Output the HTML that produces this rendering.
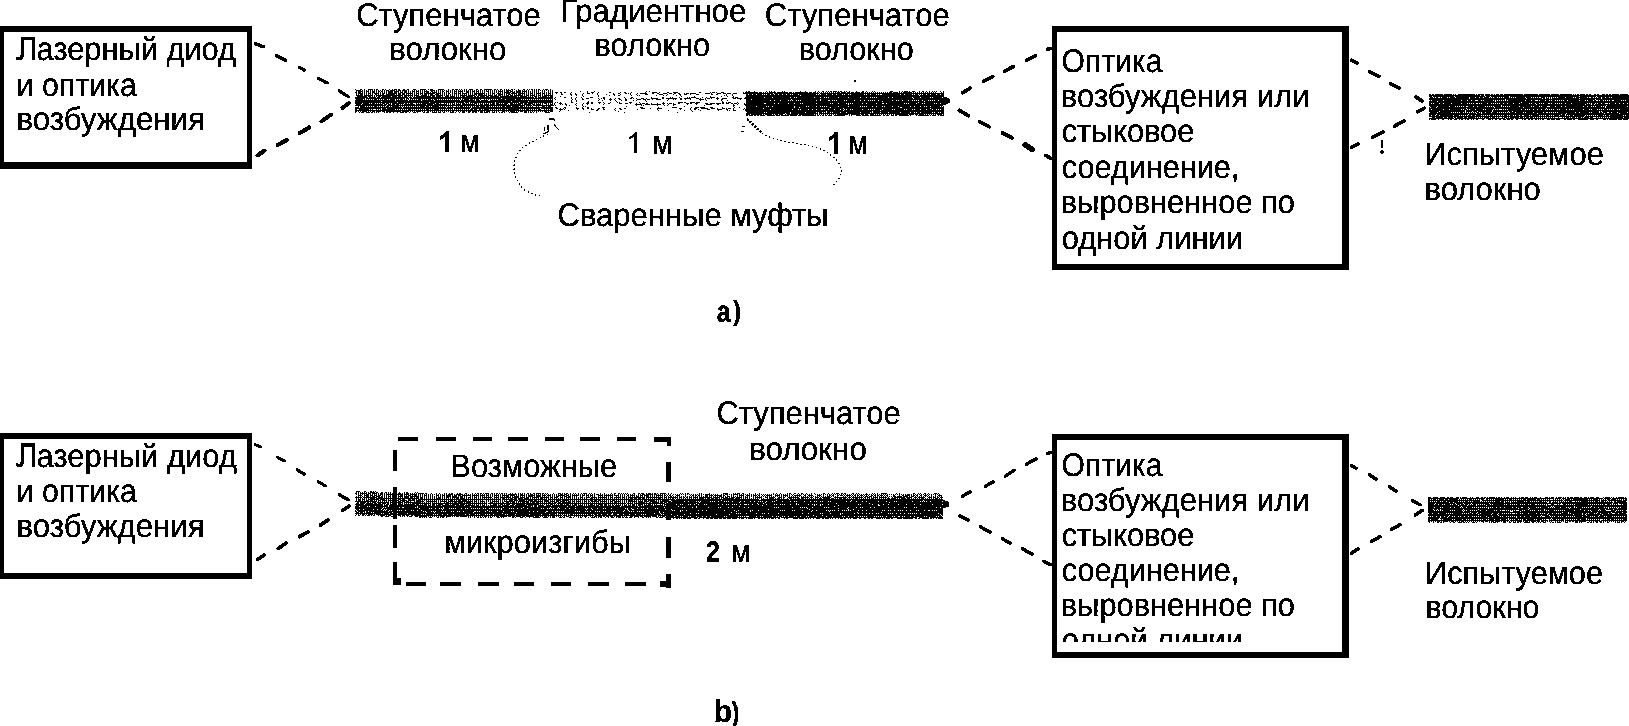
<!DOCTYPE html>
<html><head><meta charset="utf-8"><title>diagram</title>
<style>
html,body{margin:0;padding:0;background:#fff;}
body{width:1629px;height:726px;overflow:hidden;}
svg{display:block;font-family:"Liberation Sans",sans-serif;}
</style></head><body>
<svg width="1629" height="726" viewBox="0 0 1629 726">
<defs><filter id="thr" filterUnits="userSpaceOnUse" x="0" y="0" width="1629" height="726" color-interpolation-filters="sRGB"><feComponentTransfer><feFuncA type="discrete" tableValues="0 0 1 1"/></feComponentTransfer></filter><clipPath id="clipb"><rect x="1057" y="440" width="285" height="202"/></clipPath></defs>
<rect width="1629" height="726" fill="#fff"/>
<g fill="#000" shape-rendering="crispEdges">
<path fill-rule="evenodd" d="M0 26H252V169H0Z M4 32H247V162H4Z"/>
<path fill-rule="evenodd" d="M1052 26H1349V270H1052Z M1057 32H1342V264H1057Z"/>
<path fill-rule="evenodd" d="M0 433H252V579H0Z M3.5 439H247V573H3.5Z"/>
<path fill-rule="evenodd" d="M1052 434H1349V658H1052Z M1057 440H1342V651.5H1057Z"/>
<rect x="398.3" y="437" width="19.5" height="4"/>
<rect x="436.2" y="437" width="19.5" height="4"/>
<rect x="472.7" y="437" width="19.5" height="4"/>
<rect x="508.1" y="437" width="19.5" height="4"/>
<rect x="544.6" y="437" width="19.5" height="4"/>
<rect x="580" y="437" width="19.5" height="4"/>
<rect x="616.5" y="437" width="19.5" height="4"/>
<rect x="653.7" y="437" width="17.5" height="4.5"/><rect x="667" y="437" width="4" height="9"/>
<rect x="405.7" y="581.5" width="20.5" height="4.5"/>
<rect x="440.4" y="581.5" width="20.5" height="4.5"/>
<rect x="478.4" y="581.5" width="20.5" height="4.5"/>
<rect x="513.6" y="581.5" width="20.5" height="4.5"/>
<rect x="550.8" y="581.5" width="20.5" height="4.5"/>
<rect x="588" y="581.5" width="20.5" height="4.5"/>
<rect x="625.1" y="581.5" width="20.5" height="4.5"/>
<rect x="660" y="581" width="11" height="6"/>
<rect x="393" y="450.2" width="4" height="20.6"/>
<rect x="393" y="487" width="4" height="32.0"/>
<rect x="393" y="525.4" width="4" height="22.3"/>
<rect x="393" y="561.8" width="4" height="20.7"/>
<rect x="393" y="578" width="8" height="7"/>
<rect x="665.5" y="462.2" width="5.5" height="19.8"/>
<rect x="665.5" y="503" width="5.5" height="17.0"/>
<rect x="665.5" y="536.5" width="5.5" height="21.1"/>
<rect x="665.5" y="573.7" width="5.5" height="14.3"/>
</g>
<g fill="none" stroke="#000" stroke-width="1" shape-rendering="crispEdges">
<path d="M355 89.5h1M360 89.5h2M364 89.5h1M368 89.5h5M374 89.5h1M376 89.5h2M382 89.5h2M385 89.5h1M389 89.5h1M392 89.5h1M394 89.5h3M398 89.5h2M403 89.5h2M407 89.5h2M413 89.5h3M420 89.5h6M428 89.5h1M430 89.5h3M438 89.5h6M448 89.5h1M452 89.5h2M455 89.5h3M459 89.5h1M461 89.5h1M464 89.5h1M466 89.5h1M469 89.5h4M476 89.5h2M480 89.5h2M484 89.5h8M494 89.5h2M497 89.5h1M500 89.5h2M504 89.5h1M506 89.5h1M508 89.5h1M511 89.5h2M514 89.5h1M518 89.5h1M523 89.5h2M527 89.5h1M529 89.5h1M531 89.5h2M534 89.5h1M536 89.5h1M538 89.5h2M543 89.5h1M545 89.5h3M550 89.5h1M356 90.5h5M362 90.5h1M364 90.5h1M366 90.5h1M368 90.5h1M370 90.5h1M372 90.5h1M374 90.5h1M376 90.5h1M378 90.5h1M380 90.5h1M382 90.5h1M384 90.5h1M386 90.5h3M390 90.5h5M396 90.5h1M398 90.5h3M402 90.5h5M408 90.5h1M412 90.5h1M414 90.5h1M416 90.5h1M418 90.5h1M420 90.5h1M422 90.5h1M424 90.5h1M426 90.5h1M430 90.5h5M436 90.5h1M438 90.5h1M440 90.5h1M442 90.5h1M444 90.5h1M446 90.5h1M448 90.5h1M450 90.5h1M452 90.5h1M454 90.5h1M456 90.5h1M458 90.5h1M460 90.5h1M462 90.5h1M464 90.5h1M466 90.5h1M468 90.5h1M470 90.5h1M472 90.5h1M474 90.5h1M476 90.5h1M478 90.5h1M480 90.5h1M482 90.5h1M484 90.5h1M486 90.5h1M488 90.5h1M490 90.5h1M492 90.5h1M494 90.5h1M496 90.5h1M498 90.5h1M500 90.5h1M502 90.5h1M504 90.5h1M506 90.5h5M512 90.5h1M516 90.5h1M518 90.5h3M522 90.5h1M524 90.5h1M526 90.5h1M528 90.5h1M532 90.5h1M534 90.5h1M536 90.5h1M538 90.5h1M540 90.5h1M542 90.5h1M544 90.5h1M546 90.5h1M548 90.5h1M550 90.5h1M552 90.5h1M356 91.5h1M358 91.5h5M364 91.5h1M366 91.5h3M370 91.5h1M372 91.5h3M376 91.5h1M378 91.5h2M381 91.5h2M384 91.5h1M386 91.5h1M388 91.5h5M394 91.5h5M400 91.5h1M402 91.5h1M404 91.5h3M408 91.5h1M410 91.5h1M412 91.5h3M416 91.5h3M420 91.5h1M422 91.5h1M424 91.5h5M431 91.5h2M434 91.5h1M436 91.5h1M438 91.5h1M440 91.5h1M442 91.5h2M446 91.5h3M450 91.5h1M452 91.5h1M454 91.5h3M458 91.5h5M464 91.5h1M466 91.5h3M470 91.5h1M472 91.5h3M476 91.5h3M480 91.5h1M482 91.5h1M484 91.5h1M486 91.5h3M490 91.5h1M492 91.5h1M494 91.5h1M496 91.5h1M498 91.5h5M504 91.5h1M506 91.5h3M510 91.5h3M514 91.5h1M516 91.5h5M522 91.5h5M528 91.5h1M530 91.5h1M532 91.5h1M534 91.5h1M536 91.5h1M538 91.5h1M542 91.5h1M544 91.5h1M548 91.5h1M550 91.5h1M552 91.5h1M355 92.5h2M358 92.5h3M362 92.5h1M364 92.5h1M366 92.5h1M368 92.5h1M370 92.5h1M372 92.5h3M376 92.5h1M378 92.5h1M380 92.5h1M382 92.5h1M384 92.5h1M386 92.5h1M388 92.5h5M394 92.5h3M398 92.5h1M400 92.5h3M404 92.5h3M408 92.5h1M410 92.5h1M412 92.5h1M414 92.5h1M416 92.5h1M418 92.5h1M420 92.5h1M422 92.5h1M424 92.5h1M426 92.5h3M430 92.5h1M432 92.5h5M438 92.5h1M440 92.5h1M442 92.5h1M444 92.5h1M446 92.5h1M448 92.5h1M450 92.5h1M452 92.5h1M454 92.5h1M456 92.5h1M458 92.5h1M460 92.5h1M462 92.5h1M466 92.5h3M470 92.5h1M472 92.5h1M474 92.5h1M476 92.5h1M478 92.5h1M480 92.5h1M482 92.5h1M484 92.5h1M488 92.5h1M490 92.5h1M492 92.5h1M494 92.5h1M496 92.5h1M498 92.5h1M500 92.5h1M502 92.5h1M504 92.5h7M512 92.5h3M516 92.5h5M522 92.5h1M524 92.5h1M526 92.5h1M528 92.5h1M530 92.5h1M532 92.5h1M534 92.5h1M536 92.5h1M538 92.5h1M540 92.5h1M542 92.5h1M544 92.5h1M546 92.5h1M548 92.5h1M550 92.5h1M552 92.5h1M356 93.5h1M358 93.5h5M364 93.5h1M366 93.5h1M368 93.5h3M372 93.5h1M374 93.5h5M380 93.5h1M382 93.5h3M386 93.5h1M388 93.5h9M398 93.5h3M402 93.5h3M406 93.5h7M414 93.5h1M416 93.5h3M420 93.5h3M424 93.5h11M436 93.5h5M442 93.5h1M444 93.5h1M446 93.5h1M448 93.5h2M452 93.5h1M454 93.5h3M458 93.5h3M462 93.5h5M468 93.5h1M470 93.5h1M472 93.5h1M474 93.5h11M486 93.5h1M488 93.5h1M490 93.5h1M492 93.5h3M497 93.5h4M502 93.5h1M504 93.5h1M506 93.5h4M511 93.5h6M518 93.5h7M526 93.5h1M528 93.5h1M530 93.5h3M534 93.5h1M536 93.5h5M542 93.5h3M546 93.5h1M548 93.5h3M552 93.5h1M356 94.5h1M358 94.5h1M360 94.5h3M364 94.5h1M366 94.5h1M368 94.5h1M370 94.5h1M372 94.5h1M375 94.5h2M378 94.5h1M380 94.5h1M382 94.5h2M386 94.5h9M396 94.5h1M398 94.5h3M402 94.5h3M406 94.5h1M408 94.5h1M410 94.5h1M412 94.5h1M414 94.5h1M416 94.5h1M418 94.5h1M420 94.5h1M422 94.5h1M424 94.5h3M428 94.5h1M430 94.5h3M435 94.5h4M440 94.5h1M442 94.5h1M444 94.5h1M446 94.5h1M448 94.5h1M450 94.5h1M452 94.5h1M454 94.5h1M456 94.5h1M458 94.5h1M460 94.5h1M462 94.5h1M464 94.5h1M466 94.5h1M468 94.5h1M470 94.5h1M472 94.5h1M474 94.5h3M478 94.5h5M484 94.5h1M486 94.5h1M488 94.5h1M490 94.5h1M492 94.5h1M494 94.5h1M496 94.5h1M498 94.5h5M504 94.5h1M506 94.5h1M508 94.5h3M512 94.5h1M514 94.5h1M516 94.5h1M518 94.5h3M522 94.5h1M524 94.5h1M526 94.5h1M528 94.5h1M530 94.5h1M532 94.5h1M534 94.5h1M536 94.5h1M538 94.5h1M540 94.5h1M542 94.5h1M544 94.5h1M546 94.5h1M548 94.5h1M550 94.5h1M552 94.5h1M356 95.5h7M364 95.5h9M374 95.5h1M376 95.5h27M404 95.5h9M414 95.5h5M421 95.5h6M428 95.5h1M430 95.5h5M436 95.5h7M444 95.5h1M446 95.5h3M450 95.5h1M452 95.5h1M454 95.5h1M456 95.5h1M458 95.5h1M460 95.5h7M468 95.5h7M476 95.5h1M478 95.5h9M488 95.5h5M494 95.5h3M498 95.5h3M502 95.5h1M504 95.5h1M506 95.5h3M510 95.5h3M514 95.5h9M524 95.5h1M526 95.5h3M530 95.5h5M536 95.5h1M538 95.5h3M542 95.5h1M544 95.5h9M357 96.5h10M368 96.5h3M372 96.5h1M374 96.5h1M376 96.5h1M378 96.5h3M382 96.5h9M392 96.5h5M398 96.5h3M402 96.5h1M404 96.5h3M408 96.5h1M410 96.5h1M412 96.5h1M414 96.5h1M416 96.5h15M432 96.5h3M436 96.5h5M442 96.5h1M445 96.5h4M450 96.5h5M456 96.5h1M458 96.5h1M460 96.5h1M462 96.5h3M466 96.5h7M474 96.5h2M477 96.5h2M480 96.5h5M486 96.5h3M490 96.5h9M500 96.5h17M518 96.5h1M520 96.5h7M528 96.5h1M530 96.5h1M532 96.5h1M534 96.5h3M538 96.5h1M540 96.5h1M542 96.5h5M548 96.5h1M550 96.5h3M355 97.5h13M369 97.5h7M377 97.5h3M381 97.5h27M409 97.5h3M413 97.5h121M535 97.5h2M538 97.5h15M355 98.5h10M366 98.5h39M406 98.5h3M410 98.5h51M462 98.5h39M502 98.5h51M356 99.5h7M364 99.5h1M366 99.5h1M368 99.5h1M370 99.5h1M372 99.5h1M374 99.5h3M378 99.5h1M380 99.5h1M382 99.5h1M384 99.5h3M388 99.5h1M390 99.5h5M396 99.5h1M398 99.5h1M400 99.5h3M404 99.5h1M406 99.5h1M408 99.5h1M410 99.5h1M412 99.5h1M414 99.5h1M416 99.5h1M418 99.5h3M422 99.5h1M424 99.5h1M426 99.5h1M428 99.5h3M432 99.5h1M434 99.5h3M438 99.5h1M440 99.5h1M442 99.5h1M444 99.5h1M446 99.5h1M448 99.5h1M450 99.5h1M452 99.5h1M454 99.5h1M456 99.5h1M458 99.5h1M460 99.5h1M462 99.5h1M464 99.5h5M470 99.5h3M474 99.5h1M476 99.5h3M480 99.5h1M484 99.5h1M486 99.5h1M488 99.5h1M490 99.5h1M492 99.5h1M494 99.5h1M496 99.5h1M498 99.5h7M506 99.5h9M516 99.5h5M522 99.5h1M524 99.5h1M526 99.5h1M528 99.5h1M530 99.5h1M532 99.5h1M534 99.5h1M536 99.5h1M538 99.5h1M540 99.5h1M542 99.5h1M544 99.5h1M546 99.5h1M548 99.5h1M550 99.5h1M552 99.5h1M355 100.5h40M396 100.5h12M409 100.5h12M422 100.5h12M435 100.5h25M461 100.5h14M476 100.5h4M481 100.5h7M490 100.5h63M355 101.5h26M382 101.5h129M512 101.5h16M529 101.5h24M355 102.5h42M398 102.5h31M430 102.5h25M456 102.5h8M465 102.5h4M470 102.5h25M496 102.5h23M520 102.5h33M355 103.5h7M363 103.5h6M370 103.5h1M372 103.5h3M376 103.5h1M378 103.5h1M380 103.5h1M382 103.5h3M386 103.5h3M390 103.5h1M392 103.5h12M405 103.5h2M408 103.5h1M410 103.5h3M416 103.5h1M418 103.5h1M420 103.5h1M422 103.5h13M436 103.5h3M440 103.5h1M444 103.5h1M446 103.5h1M448 103.5h1M450 103.5h1M452 103.5h1M454 103.5h1M456 103.5h1M458 103.5h1M460 103.5h1M462 103.5h3M466 103.5h1M468 103.5h1M470 103.5h1M472 103.5h1M474 103.5h3M478 103.5h1M480 103.5h1M482 103.5h1M484 103.5h1M486 103.5h1M488 103.5h1M490 103.5h1M492 103.5h3M496 103.5h3M500 103.5h1M502 103.5h1M504 103.5h4M510 103.5h3M514 103.5h1M516 103.5h1M518 103.5h5M524 103.5h3M528 103.5h5M534 103.5h1M536 103.5h1M538 103.5h1M540 103.5h1M542 103.5h1M544 103.5h3M548 103.5h1M550 103.5h1M552 103.5h1M356 104.5h5M362 104.5h21M384 104.5h3M388 104.5h3M392 104.5h3M396 104.5h3M400 104.5h1M402 104.5h1M404 104.5h11M416 104.5h10M427 104.5h6M434 104.5h13M448 104.5h1M450 104.5h1M452 104.5h3M456 104.5h5M462 104.5h13M476 104.5h1M478 104.5h1M480 104.5h3M484 104.5h5M490 104.5h5M496 104.5h11M508 104.5h1M510 104.5h11M522 104.5h1M524 104.5h7M532 104.5h3M536 104.5h5M542 104.5h1M546 104.5h1M548 104.5h1M550 104.5h3M355 105.5h31M387 105.5h138M526 105.5h6M533 105.5h20M358 106.5h1M360 106.5h5M366 106.5h1M368 106.5h1M370 106.5h1M372 106.5h1M374 106.5h3M378 106.5h1M380 106.5h1M382 106.5h1M384 106.5h1M386 106.5h3M390 106.5h1M392 106.5h7M400 106.5h1M402 106.5h1M404 106.5h1M406 106.5h1M408 106.5h1M410 106.5h1M412 106.5h1M414 106.5h1M416 106.5h1M418 106.5h1M420 106.5h5M426 106.5h3M430 106.5h1M432 106.5h7M440 106.5h1M442 106.5h1M444 106.5h1M446 106.5h1M448 106.5h1M450 106.5h1M452 106.5h1M456 106.5h1M458 106.5h1M460 106.5h3M464 106.5h1M466 106.5h1M468 106.5h1M470 106.5h1M472 106.5h1M474 106.5h1M476 106.5h3M480 106.5h5M486 106.5h3M490 106.5h1M492 106.5h1M494 106.5h1M496 106.5h1M498 106.5h1M500 106.5h1M502 106.5h3M506 106.5h5M512 106.5h7M520 106.5h3M524 106.5h1M526 106.5h1M528 106.5h1M530 106.5h1M532 106.5h1M536 106.5h1M538 106.5h1M542 106.5h3M546 106.5h1M548 106.5h3M355 107.5h4M360 107.5h42M403 107.5h43M447 107.5h24M472 107.5h81M355 108.5h26M382 108.5h4M387 108.5h66M454 108.5h16M471 108.5h69M541 108.5h12M355 109.5h2M359 109.5h10M370 109.5h1M372 109.5h1M376 109.5h1M378 109.5h1M380 109.5h1M382 109.5h13M396 109.5h1M398 109.5h1M400 109.5h1M402 109.5h1M404 109.5h1M406 109.5h1M408 109.5h3M412 109.5h1M414 109.5h1M416 109.5h1M418 109.5h1M420 109.5h1M422 109.5h1M424 109.5h1M426 109.5h3M430 109.5h1M432 109.5h1M434 109.5h5M440 109.5h1M442 109.5h1M444 109.5h1M446 109.5h1M448 109.5h1M450 109.5h1M452 109.5h1M454 109.5h1M456 109.5h1M458 109.5h1M460 109.5h1M462 109.5h1M464 109.5h1M466 109.5h1M468 109.5h1M470 109.5h3M474 109.5h3M479 109.5h2M482 109.5h1M484 109.5h5M490 109.5h1M492 109.5h1M494 109.5h1M496 109.5h1M498 109.5h1M500 109.5h1M502 109.5h3M506 109.5h1M508 109.5h11M520 109.5h1M522 109.5h1M524 109.5h1M526 109.5h3M530 109.5h1M532 109.5h1M534 109.5h1M536 109.5h1M538 109.5h3M544 109.5h1M546 109.5h1M548 109.5h1M550 109.5h3M355 110.5h198M355 111.5h2M358 111.5h1M360 111.5h1M362 111.5h5M368 111.5h1M370 111.5h1M372 111.5h3M376 111.5h5M382 111.5h3M386 111.5h15M402 111.5h7M410 111.5h1M412 111.5h1M414 111.5h1M416 111.5h5M422 111.5h1M424 111.5h1M427 111.5h2M430 111.5h1M432 111.5h1M434 111.5h1M436 111.5h1M438 111.5h1M440 111.5h1M442 111.5h1M444 111.5h1M446 111.5h1M448 111.5h1M450 111.5h1M452 111.5h2M456 111.5h1M458 111.5h1M460 111.5h1M462 111.5h3M466 111.5h1M468 111.5h3M472 111.5h5M478 111.5h1M480 111.5h3M484 111.5h1M486 111.5h4M492 111.5h1M494 111.5h1M496 111.5h1M498 111.5h1M502 111.5h3M506 111.5h1M508 111.5h1M510 111.5h5M516 111.5h1M518 111.5h1M520 111.5h3M524 111.5h3M528 111.5h1M530 111.5h1M532 111.5h1M534 111.5h1M536 111.5h1M538 111.5h1M540 111.5h1M542 111.5h1M544 111.5h3M548 111.5h1M550 111.5h3M355 112.5h1M359 112.5h1M361 112.5h3M366 112.5h4M371 112.5h2M374 112.5h1M376 112.5h1M378 112.5h1M384 112.5h1M386 112.5h2M389 112.5h2M393 112.5h1M397 112.5h1M400 112.5h4M405 112.5h2M409 112.5h1M413 112.5h3M417 112.5h1M423 112.5h2M426 112.5h3M432 112.5h5M438 112.5h3M443 112.5h2M450 112.5h4M455 112.5h1M459 112.5h1M462 112.5h3M468 112.5h2M472 112.5h2M475 112.5h2M480 112.5h3M484 112.5h4M489 112.5h1M492 112.5h3M496 112.5h1M499 112.5h1M501 112.5h2M504 112.5h1M509 112.5h1M511 112.5h7M524 112.5h3M528 112.5h1M530 112.5h2M533 112.5h1M536 112.5h1M545 112.5h5"/>
<path d="M580 91.5h1M587 91.5h1M594 91.5h1M646 91.5h1M649 91.5h1M555 92.5h3M560 92.5h2M564 92.5h2M571 92.5h1M587 92.5h1M591 92.5h3M598 92.5h1M609 92.5h2M620 92.5h1M624 92.5h2M631 92.5h1M645 92.5h1M652 92.5h5M659 92.5h1M667 92.5h2M673 92.5h5M699 92.5h2M710 92.5h1M712 92.5h3M716 92.5h1M721 92.5h3M743 92.5h1M745 92.5h2M556 93.5h1M561 93.5h1M570 93.5h1M575 93.5h1M583 93.5h1M587 93.5h3M592 93.5h1M597 93.5h1M613 93.5h1M618 93.5h2M625 93.5h2M628 93.5h1M630 93.5h1M637 93.5h1M640 93.5h7M652 93.5h2M657 93.5h2M663 93.5h4M669 93.5h3M674 93.5h2M678 93.5h2M684 93.5h1M686 93.5h3M690 93.5h6M705 93.5h5M711 93.5h1M717 93.5h4M723 93.5h3M727 93.5h4M733 93.5h4M743 93.5h3M561 94.5h2M570 94.5h2M575 94.5h2M582 94.5h1M597 94.5h1M606 94.5h1M613 94.5h2M620 94.5h1M630 94.5h1M636 94.5h1M645 94.5h3M659 94.5h4M667 94.5h1M673 94.5h1M679 94.5h2M684 94.5h3M690 94.5h1M696 94.5h3M711 94.5h2M716 94.5h2M726 94.5h1M732 94.5h1M571 95.5h1M576 95.5h1M582 95.5h1M598 95.5h1M609 95.5h1M614 95.5h1M618 95.5h2M631 95.5h1M637 95.5h1M639 95.5h1M656 95.5h1M663 95.5h1M666 95.5h1M676 95.5h1M680 95.5h1M724 95.5h1M726 95.5h1M732 95.5h1M560 96.5h1M583 96.5h1M598 96.5h1M681 96.5h1M694 96.5h1M710 96.5h1M721 96.5h1M727 96.5h1M733 96.5h1M555 97.5h1M564 97.5h2M571 97.5h1M576 97.5h1M581 97.5h1M590 97.5h3M603 97.5h2M624 97.5h1M631 97.5h2M651 97.5h1M662 97.5h2M670 97.5h1M672 97.5h1M679 97.5h1M687 97.5h1M689 97.5h1M691 97.5h5M702 97.5h1M706 97.5h1M710 97.5h5M717 97.5h1M732 97.5h2M735 97.5h3M745 97.5h2M554 98.5h1M571 98.5h1M575 98.5h1M582 98.5h1M586 98.5h3M598 98.5h1M601 98.5h1M603 98.5h2M610 98.5h1M615 98.5h1M618 98.5h2M625 98.5h1M630 98.5h2M633 98.5h1M636 98.5h1M641 98.5h3M646 98.5h1M651 98.5h7M662 98.5h2M666 98.5h11M680 98.5h2M684 98.5h7M696 98.5h3M700 98.5h1M705 98.5h1M707 98.5h3M711 98.5h1M716 98.5h3M722 98.5h5M733 98.5h3M737 98.5h5M744 98.5h2M555 99.5h1M572 99.5h1M575 99.5h1M582 99.5h2M599 99.5h1M604 99.5h1M609 99.5h3M614 99.5h1M619 99.5h2M625 99.5h2M637 99.5h4M643 99.5h3M647 99.5h3M652 99.5h1M656 99.5h5M668 99.5h1M673 99.5h1M675 99.5h1M680 99.5h2M685 99.5h1M690 99.5h1M699 99.5h5M705 99.5h1M717 99.5h1M721 99.5h2M740 99.5h1M571 100.5h1M576 100.5h1M598 100.5h1M602 100.5h1M610 100.5h1M615 100.5h1M621 100.5h1M625 100.5h2M633 100.5h1M636 100.5h1M645 100.5h1M667 100.5h1M700 100.5h1M706 100.5h1M721 100.5h1M727 100.5h1M571 101.5h1M576 101.5h1M588 101.5h1M616 101.5h1M646 101.5h1M722 101.5h1M555 102.5h1M557 102.5h1M560 102.5h1M571 102.5h2M587 102.5h2M591 102.5h2M598 102.5h3M603 102.5h1M610 102.5h1M617 102.5h1M619 102.5h1M629 102.5h3M639 102.5h1M663 102.5h1M678 102.5h5M684 102.5h2M690 102.5h5M696 102.5h4M722 102.5h2M726 102.5h1M728 102.5h3M737 102.5h1M554 103.5h1M559 103.5h3M565 103.5h1M576 103.5h1M583 103.5h1M586 103.5h3M591 103.5h2M599 103.5h1M604 103.5h1M608 103.5h2M619 103.5h3M625 103.5h3M630 103.5h1M636 103.5h1M640 103.5h1M642 103.5h3M646 103.5h2M651 103.5h1M657 103.5h1M662 103.5h3M667 103.5h1M669 103.5h3M673 103.5h1M678 103.5h2M686 103.5h3M690 103.5h2M695 103.5h3M705 103.5h3M710 103.5h5M716 103.5h5M722 103.5h2M726 103.5h3M731 103.5h2M734 103.5h3M738 103.5h1M744 103.5h1M554 104.5h1M560 104.5h1M562 104.5h1M565 104.5h2M575 104.5h1M582 104.5h1M587 104.5h1M603 104.5h1M635 104.5h7M645 104.5h5M651 104.5h10M663 104.5h1M668 104.5h1M673 104.5h3M687 104.5h1M696 104.5h1M706 104.5h6M717 104.5h2M733 104.5h1M737 104.5h1M744 104.5h3M553 105.5h1M555 105.5h1M566 105.5h1M569 105.5h1M576 105.5h1M582 105.5h1M636 105.5h1M641 105.5h1M643 105.5h1M657 105.5h1M664 105.5h1M667 105.5h1M673 105.5h1M704 105.5h1M733 105.5h2M745 105.5h1M583 106.5h1M585 106.5h1M626 106.5h1M684 106.5h1M733 106.5h1M555 107.5h2M564 107.5h2M576 107.5h1M582 107.5h1M587 107.5h2M602 107.5h3M640 107.5h3M658 107.5h1M672 107.5h5M691 107.5h1M695 107.5h4M700 107.5h5M710 107.5h3M722 107.5h1M734 107.5h1M739 107.5h1M556 108.5h2M560 108.5h1M563 108.5h1M565 108.5h1M576 108.5h3M582 108.5h2M587 108.5h2M591 108.5h1M598 108.5h2M603 108.5h1M615 108.5h1M619 108.5h2M624 108.5h2M641 108.5h4M650 108.5h1M657 108.5h5M679 108.5h3M690 108.5h1M694 108.5h3M701 108.5h7M711 108.5h4M717 108.5h1M722 108.5h3M726 108.5h1M728 108.5h3M733 108.5h1M744 108.5h1M746 108.5h1M559 109.5h4M564 109.5h1M577 109.5h1M583 109.5h1M591 109.5h3M597 109.5h2M603 109.5h2M614 109.5h1M620 109.5h2M637 109.5h1M657 109.5h1M680 109.5h1M690 109.5h1M694 109.5h2M698 109.5h1M707 109.5h3M717 109.5h5M726 109.5h2M733 109.5h1M743 109.5h1M745 109.5h1M560 110.5h1M568 110.5h1M596 110.5h2M615 110.5h1M658 110.5h1M668 110.5h1M684 110.5h1M691 110.5h1M700 110.5h1M718 110.5h1M727 110.5h1M729 110.5h1M733 110.5h3M745 110.5h2M559 111.5h1M618 111.5h1M692 111.5h1M589 112.5h1M624 112.5h1M677 112.5h1"/>
<path d="M746 91.5h1M748 91.5h2M754 91.5h1M766 91.5h1M769 91.5h1M771 91.5h1M774 91.5h1M782 91.5h1M784 91.5h1M800 91.5h1M805 91.5h1M815 91.5h1M818 91.5h1M822 91.5h2M826 91.5h1M828 91.5h1M830 91.5h2M833 91.5h4M838 91.5h1M840 91.5h2M844 91.5h1M846 91.5h1M849 91.5h1M856 91.5h1M862 91.5h2M866 91.5h1M872 91.5h1M874 91.5h1M890 91.5h3M899 91.5h1M902 91.5h1M904 91.5h4M909 91.5h1M912 91.5h3M919 91.5h1M922 91.5h2M926 91.5h1M929 91.5h1M932 91.5h1M934 91.5h1M936 91.5h1M940 91.5h1M943 91.5h1M746 92.5h12M759 92.5h3M763 92.5h1M765 92.5h1M767 92.5h1M769 92.5h7M777 92.5h11M789 92.5h3M793 92.5h1M795 92.5h13M809 92.5h3M813 92.5h3M817 92.5h1M819 92.5h1M821 92.5h1M823 92.5h1M825 92.5h1M827 92.5h1M829 92.5h1M831 92.5h1M833 92.5h1M835 92.5h1M837 92.5h3M841 92.5h5M847 92.5h3M851 92.5h3M855 92.5h5M861 92.5h3M865 92.5h1M867 92.5h1M869 92.5h1M871 92.5h1M873 92.5h1M875 92.5h1M877 92.5h1M879 92.5h1M881 92.5h1M883 92.5h1M885 92.5h1M887 92.5h1M889 92.5h3M893 92.5h5M899 92.5h1M901 92.5h1M903 92.5h9M913 92.5h1M915 92.5h1M917 92.5h1M919 92.5h1M921 92.5h1M923 92.5h1M925 92.5h1M927 92.5h1M929 92.5h1M931 92.5h1M933 92.5h1M935 92.5h1M941 92.5h1M943 92.5h1M746 93.5h27M774 93.5h45M820 93.5h124M746 94.5h2M749 94.5h3M753 94.5h3M757 94.5h5M763 94.5h1M765 94.5h1M767 94.5h3M771 94.5h3M775 94.5h3M779 94.5h3M783 94.5h3M787 94.5h3M791 94.5h1M793 94.5h5M799 94.5h17M817 94.5h1M819 94.5h1M821 94.5h5M827 94.5h5M833 94.5h3M837 94.5h5M843 94.5h1M845 94.5h3M849 94.5h1M851 94.5h13M865 94.5h1M867 94.5h3M871 94.5h5M877 94.5h1M879 94.5h1M882 94.5h18M901 94.5h3M905 94.5h7M913 94.5h1M915 94.5h3M919 94.5h1M921 94.5h1M923 94.5h3M927 94.5h3M931 94.5h5M937 94.5h3M941 94.5h3M746 95.5h54M801 95.5h118M920 95.5h24M746 96.5h198M746 97.5h18M765 97.5h7M773 97.5h17M791 97.5h3M795 97.5h1M797 97.5h17M815 97.5h5M821 97.5h3M825 97.5h1M827 97.5h1M829 97.5h9M839 97.5h9M849 97.5h11M861 97.5h5M867 97.5h3M871 97.5h1M873 97.5h1M875 97.5h1M877 97.5h11M889 97.5h3M893 97.5h19M913 97.5h7M921 97.5h9M931 97.5h1M933 97.5h9M943 97.5h1M746 98.5h167M914 98.5h30M746 99.5h5M752 99.5h39M792 99.5h28M821 99.5h123M746 100.5h24M771 100.5h3M775 100.5h5M781 100.5h7M789 100.5h1M791 100.5h1M793 100.5h3M797 100.5h1M799 100.5h1M801 100.5h15M817 100.5h3M821 100.5h7M830 100.5h2M833 100.5h1M835 100.5h1M837 100.5h7M845 100.5h1M847 100.5h7M855 100.5h5M861 100.5h3M865 100.5h3M869 100.5h1M871 100.5h1M873 100.5h1M875 100.5h3M879 100.5h13M893 100.5h3M897 100.5h1M899 100.5h3M903 100.5h5M909 100.5h3M913 100.5h1M915 100.5h1M917 100.5h1M919 100.5h3M923 100.5h5M929 100.5h1M931 100.5h1M933 100.5h1M935 100.5h3M939 100.5h5M746 101.5h136M883 101.5h41M925 101.5h19M746 102.5h172M919 102.5h25M746 103.5h18M766 103.5h8M775 103.5h3M779 103.5h9M789 103.5h5M795 103.5h5M801 103.5h1M803 103.5h13M817 103.5h13M831 103.5h1M833 103.5h5M839 103.5h7M847 103.5h1M849 103.5h1M851 103.5h1M853 103.5h9M863 103.5h3M867 103.5h9M877 103.5h5M884 103.5h2M887 103.5h17M905 103.5h1M907 103.5h1M909 103.5h7M917 103.5h5M923 103.5h1M925 103.5h9M935 103.5h1M937 103.5h3M941 103.5h3M746 104.5h102M849 104.5h95M746 105.5h197M746 106.5h10M757 106.5h9M767 106.5h1M769 106.5h3M773 106.5h21M795 106.5h11M807 106.5h1M809 106.5h7M817 106.5h3M821 106.5h1M823 106.5h1M825 106.5h1M827 106.5h11M839 106.5h9M849 106.5h11M861 106.5h1M863 106.5h1M865 106.5h1M867 106.5h5M873 106.5h3M877 106.5h5M883 106.5h1M885 106.5h7M893 106.5h5M899 106.5h11M911 106.5h3M915 106.5h5M921 106.5h3M925 106.5h1M927 106.5h3M931 106.5h9M941 106.5h1M943 106.5h1M746 107.5h48M795 107.5h4M800 107.5h30M831 107.5h69M902 107.5h42M746 108.5h17M764 108.5h79M844 108.5h86M931 108.5h13M746 109.5h24M771 109.5h21M793 109.5h5M799 109.5h1M801 109.5h7M809 109.5h3M813 109.5h3M817 109.5h4M823 109.5h1M825 109.5h3M829 109.5h5M835 109.5h5M841 109.5h3M845 109.5h1M847 109.5h3M851 109.5h1M853 109.5h9M863 109.5h5M869 109.5h1M871 109.5h1M873 109.5h1M875 109.5h7M883 109.5h9M893 109.5h1M895 109.5h9M905 109.5h1M907 109.5h5M913 109.5h1M915 109.5h5M921 109.5h5M927 109.5h5M933 109.5h3M937 109.5h1M939 109.5h1M941 109.5h3M746 110.5h97M844 110.5h36M881 110.5h63M746 111.5h80M827 111.5h45M873 111.5h71M747 112.5h17M765 112.5h1M767 112.5h23M791 112.5h14M806 112.5h10M817 112.5h1M819 112.5h3M823 112.5h1M825 112.5h1M827 112.5h3M831 112.5h1M833 112.5h7M841 112.5h5M847 112.5h13M861 112.5h9M871 112.5h1M873 112.5h7M881 112.5h7M889 112.5h11M901 112.5h9M911 112.5h3M915 112.5h1M917 112.5h3M921 112.5h11M933 112.5h1M935 112.5h3M939 112.5h1M941 112.5h3M746 113.5h39M786 113.5h4M791 113.5h27M819 113.5h125M746 114.5h4M751 114.5h11M763 114.5h1M765 114.5h7M773 114.5h1M775 114.5h3M779 114.5h4M785 114.5h1M787 114.5h11M799 114.5h15M815 114.5h1M817 114.5h1M819 114.5h1M821 114.5h1M823 114.5h1M825 114.5h1M827 114.5h1M829 114.5h1M831 114.5h1M833 114.5h1M835 114.5h1M837 114.5h11M849 114.5h1M851 114.5h9M861 114.5h3M865 114.5h3M870 114.5h4M875 114.5h1M877 114.5h1M879 114.5h1M881 114.5h1M883 114.5h1M885 114.5h1M887 114.5h1M889 114.5h1M891 114.5h1M893 114.5h1M895 114.5h13M909 114.5h5M915 114.5h3M919 114.5h5M925 114.5h1M927 114.5h1M929 114.5h1M931 114.5h1M933 114.5h1M935 114.5h1M937 114.5h5M943 114.5h1M746 115.5h2M749 115.5h4M754 115.5h2M757 115.5h2M760 115.5h5M767 115.5h8M776 115.5h4M781 115.5h8M790 115.5h7M798 115.5h3M802 115.5h14M817 115.5h2M820 115.5h1M822 115.5h2M825 115.5h2M828 115.5h4M834 115.5h11M849 115.5h1M851 115.5h1M856 115.5h5M862 115.5h7M870 115.5h11M883 115.5h2M886 115.5h3M891 115.5h3M895 115.5h2M899 115.5h10M910 115.5h1M916 115.5h1M918 115.5h11M930 115.5h1M932 115.5h4M938 115.5h1M940 115.5h4"/>
<path d="M944 97.5h3M944 98.5h5M944 99.5h6M944 100.5h6M944 101.5h6M944 102.5h6M944 103.5h4M944 104.5h2"/>
<path d="M1429 94.5h2M1432 94.5h2M1435 94.5h8M1444 94.5h8M1453 94.5h1M1455 94.5h1M1458 94.5h17M1476 94.5h1M1478 94.5h6M1485 94.5h5M1491 94.5h2M1494 94.5h1M1496 94.5h3M1500 94.5h3M1504 94.5h19M1524 94.5h14M1539 94.5h11M1551 94.5h8M1560 94.5h12M1573 94.5h1M1575 94.5h1M1577 94.5h2M1580 94.5h5M1586 94.5h2M1589 94.5h2M1594 94.5h2M1597 94.5h2M1602 94.5h3M1606 94.5h2M1609 94.5h2M1612 94.5h7M1620 94.5h8M1429 95.5h51M1481 95.5h3M1485 95.5h144M1429 96.5h3M1433 96.5h21M1455 96.5h30M1486 96.5h4M1491 96.5h18M1510 96.5h69M1580 96.5h16M1597 96.5h32M1430 97.5h3M1434 97.5h1M1436 97.5h2M1440 97.5h1M1442 97.5h5M1448 97.5h1M1450 97.5h5M1456 97.5h13M1470 97.5h5M1476 97.5h3M1480 97.5h3M1484 97.5h5M1490 97.5h1M1492 97.5h1M1494 97.5h3M1498 97.5h1M1500 97.5h1M1502 97.5h1M1504 97.5h5M1510 97.5h1M1512 97.5h1M1514 97.5h1M1516 97.5h9M1526 97.5h5M1532 97.5h1M1534 97.5h1M1536 97.5h1M1538 97.5h1M1541 97.5h4M1546 97.5h1M1548 97.5h1M1550 97.5h1M1552 97.5h1M1554 97.5h1M1556 97.5h1M1558 97.5h7M1566 97.5h7M1574 97.5h1M1576 97.5h11M1588 97.5h1M1591 97.5h2M1594 97.5h1M1596 97.5h1M1598 97.5h3M1602 97.5h3M1606 97.5h3M1610 97.5h1M1612 97.5h17M1429 98.5h40M1470 98.5h56M1527 98.5h15M1543 98.5h2M1546 98.5h3M1550 98.5h1M1552 98.5h27M1580 98.5h21M1602 98.5h27M1429 99.5h76M1506 99.5h89M1596 99.5h33M1430 100.5h1M1432 100.5h11M1444 100.5h17M1462 100.5h5M1468 100.5h3M1472 100.5h3M1478 100.5h3M1482 100.5h1M1484 100.5h9M1494 100.5h1M1496 100.5h1M1498 100.5h1M1500 100.5h1M1502 100.5h1M1504 100.5h1M1506 100.5h1M1508 100.5h17M1526 100.5h5M1532 100.5h3M1538 100.5h1M1540 100.5h5M1546 100.5h3M1550 100.5h1M1552 100.5h3M1556 100.5h1M1558 100.5h1M1560 100.5h1M1562 100.5h1M1564 100.5h3M1568 100.5h11M1580 100.5h5M1586 100.5h1M1588 100.5h5M1594 100.5h2M1598 100.5h1M1600 100.5h3M1604 100.5h1M1606 100.5h1M1608 100.5h1M1610 100.5h2M1614 100.5h7M1622 100.5h1M1624 100.5h1M1626 100.5h3M1429 101.5h8M1438 101.5h57M1496 101.5h133M1429 102.5h92M1522 102.5h107M1429 103.5h2M1432 103.5h1M1434 103.5h5M1440 103.5h3M1444 103.5h7M1452 103.5h9M1462 103.5h5M1468 103.5h1M1470 103.5h1M1472 103.5h1M1474 103.5h2M1478 103.5h1M1480 103.5h1M1482 103.5h5M1488 103.5h3M1492 103.5h1M1494 103.5h1M1496 103.5h1M1498 103.5h1M1500 103.5h3M1504 103.5h3M1508 103.5h5M1514 103.5h5M1520 103.5h9M1530 103.5h1M1532 103.5h3M1536 103.5h3M1540 103.5h1M1542 103.5h1M1544 103.5h4M1550 103.5h1M1552 103.5h3M1556 103.5h1M1558 103.5h1M1560 103.5h1M1562 103.5h3M1566 103.5h5M1572 103.5h15M1588 103.5h1M1590 103.5h1M1592 103.5h3M1596 103.5h1M1598 103.5h3M1602 103.5h3M1608 103.5h1M1610 103.5h5M1616 103.5h3M1620 103.5h3M1624 103.5h3M1628 103.5h1M1429 104.5h107M1537 104.5h48M1586 104.5h5M1592 104.5h2M1595 104.5h34M1429 105.5h72M1502 105.5h104M1607 105.5h22M1430 106.5h7M1438 106.5h11M1450 106.5h5M1456 106.5h1M1458 106.5h1M1460 106.5h1M1462 106.5h1M1464 106.5h2M1468 106.5h5M1474 106.5h3M1478 106.5h7M1486 106.5h1M1488 106.5h1M1490 106.5h1M1492 106.5h1M1494 106.5h7M1502 106.5h1M1504 106.5h1M1506 106.5h1M1508 106.5h1M1510 106.5h9M1520 106.5h11M1532 106.5h1M1534 106.5h5M1540 106.5h1M1542 106.5h5M1550 106.5h5M1556 106.5h5M1562 106.5h3M1566 106.5h17M1584 106.5h3M1588 106.5h3M1592 106.5h1M1594 106.5h1M1596 106.5h5M1602 106.5h1M1604 106.5h1M1606 106.5h21M1628 106.5h1M1429 107.5h1M1431 107.5h5M1437 107.5h57M1495 107.5h28M1524 107.5h81M1606 107.5h23M1429 108.5h37M1467 108.5h79M1547 108.5h82M1429 109.5h2M1432 109.5h11M1444 109.5h5M1450 109.5h11M1462 109.5h1M1464 109.5h3M1468 109.5h1M1470 109.5h5M1476 109.5h7M1484 109.5h1M1486 109.5h7M1494 109.5h1M1496 109.5h1M1498 109.5h1M1502 109.5h1M1504 109.5h1M1506 109.5h1M1508 109.5h13M1522 109.5h3M1526 109.5h1M1528 109.5h1M1530 109.5h3M1534 109.5h3M1538 109.5h3M1542 109.5h3M1546 109.5h1M1548 109.5h1M1550 109.5h1M1552 109.5h1M1554 109.5h3M1558 109.5h1M1560 109.5h6M1567 109.5h2M1570 109.5h1M1572 109.5h1M1574 109.5h9M1584 109.5h5M1590 109.5h1M1592 109.5h5M1598 109.5h1M1600 109.5h1M1602 109.5h1M1604 109.5h3M1608 109.5h1M1610 109.5h1M1612 109.5h1M1614 109.5h3M1618 109.5h1M1620 109.5h9M1429 110.5h36M1466 110.5h26M1493 110.5h136M1429 111.5h10M1440 111.5h25M1466 111.5h6M1473 111.5h4M1478 111.5h14M1493 111.5h15M1509 111.5h3M1513 111.5h86M1600 111.5h1M1602 111.5h27M1430 112.5h7M1438 112.5h13M1452 112.5h1M1454 112.5h1M1456 112.5h1M1458 112.5h1M1460 112.5h3M1464 112.5h1M1466 112.5h1M1468 112.5h1M1470 112.5h1M1472 112.5h1M1474 112.5h1M1476 112.5h3M1480 112.5h1M1482 112.5h3M1486 112.5h5M1492 112.5h5M1498 112.5h1M1500 112.5h1M1502 112.5h1M1504 112.5h1M1506 112.5h1M1508 112.5h1M1510 112.5h5M1516 112.5h7M1524 112.5h1M1526 112.5h7M1534 112.5h9M1544 112.5h2M1548 112.5h1M1550 112.5h1M1552 112.5h1M1554 112.5h1M1556 112.5h1M1558 112.5h17M1576 112.5h3M1580 112.5h9M1590 112.5h1M1592 112.5h7M1600 112.5h2M1603 112.5h4M1609 112.5h2M1612 112.5h5M1618 112.5h9M1628 112.5h1M1429 113.5h47M1477 113.5h4M1482 113.5h55M1538 113.5h28M1567 113.5h37M1605 113.5h14M1620 113.5h9M1429 114.5h7M1437 114.5h31M1469 114.5h92M1562 114.5h3M1566 114.5h63M1429 115.5h2M1432 115.5h3M1436 115.5h3M1440 115.5h13M1454 115.5h5M1460 115.5h1M1462 115.5h1M1464 115.5h1M1466 115.5h1M1468 115.5h3M1472 115.5h3M1476 115.5h5M1482 115.5h1M1484 115.5h1M1486 115.5h1M1488 115.5h1M1490 115.5h3M1494 115.5h1M1496 115.5h1M1498 115.5h1M1500 115.5h1M1502 115.5h1M1504 115.5h3M1508 115.5h1M1510 115.5h3M1514 115.5h1M1516 115.5h3M1520 115.5h2M1524 115.5h5M1530 115.5h1M1532 115.5h7M1540 115.5h1M1542 115.5h1M1544 115.5h1M1546 115.5h3M1550 115.5h1M1552 115.5h1M1554 115.5h5M1560 115.5h5M1566 115.5h1M1568 115.5h1M1570 115.5h3M1574 115.5h11M1586 115.5h1M1588 115.5h1M1590 115.5h1M1592 115.5h1M1594 115.5h1M1596 115.5h1M1598 115.5h5M1604 115.5h1M1606 115.5h3M1610 115.5h13M1624 115.5h1M1626 115.5h3M1429 116.5h155M1585 116.5h44M1432 117.5h3M1436 117.5h7M1444 117.5h3M1448 117.5h5M1454 117.5h2M1457 117.5h6M1464 117.5h3M1468 117.5h7M1476 117.5h1M1478 117.5h1M1480 117.5h1M1482 117.5h1M1484 117.5h5M1490 117.5h1M1492 117.5h3M1496 117.5h1M1498 117.5h1M1502 117.5h1M1504 117.5h3M1508 117.5h1M1510 117.5h9M1520 117.5h3M1524 117.5h1M1526 117.5h3M1530 117.5h3M1534 117.5h1M1536 117.5h1M1538 117.5h1M1540 117.5h1M1542 117.5h1M1544 117.5h1M1546 117.5h1M1548 117.5h1M1550 117.5h1M1552 117.5h1M1554 117.5h1M1558 117.5h1M1562 117.5h1M1564 117.5h1M1566 117.5h3M1570 117.5h1M1572 117.5h3M1576 117.5h1M1578 117.5h3M1582 117.5h1M1584 117.5h5M1590 117.5h3M1596 117.5h1M1598 117.5h1M1600 117.5h1M1602 117.5h1M1604 117.5h1M1606 117.5h1M1608 117.5h1M1610 117.5h13M1624 117.5h5M1429 118.5h25M1455 118.5h30M1486 118.5h19M1506 118.5h8M1515 118.5h114M1429 119.5h1M1431 119.5h5M1438 119.5h1M1442 119.5h2M1448 119.5h1M1450 119.5h2M1454 119.5h3M1459 119.5h1M1461 119.5h2M1465 119.5h1M1467 119.5h2M1471 119.5h1M1473 119.5h1M1476 119.5h2M1482 119.5h2M1488 119.5h3M1492 119.5h1M1495 119.5h2M1499 119.5h2M1503 119.5h3M1507 119.5h3M1511 119.5h2M1516 119.5h2M1522 119.5h1M1524 119.5h2M1528 119.5h2M1531 119.5h2M1535 119.5h2M1538 119.5h1M1540 119.5h1M1542 119.5h2M1547 119.5h3M1551 119.5h4M1556 119.5h4M1564 119.5h2M1567 119.5h5M1573 119.5h2M1578 119.5h10M1590 119.5h4M1596 119.5h2M1603 119.5h3M1607 119.5h1M1609 119.5h8M1618 119.5h4M1623 119.5h5"/>
<path d="M356 491.5h4M364 491.5h2M370 491.5h2M373 491.5h1M375 491.5h1M356 492.5h1M358 492.5h1M360 492.5h1M362 492.5h1M364 492.5h1M366 492.5h1M368 492.5h1M370 492.5h5M376 492.5h2M381 492.5h2M385 492.5h2M388 492.5h1M390 492.5h1M395 492.5h1M399 492.5h1M404 492.5h1M406 492.5h2M415 492.5h1M417 492.5h1M355 493.5h2M358 493.5h1M360 493.5h7M368 493.5h3M372 493.5h5M378 493.5h1M380 493.5h3M384 493.5h1M386 493.5h1M388 493.5h1M390 493.5h1M392 493.5h1M394 493.5h1M396 493.5h1M398 493.5h3M402 493.5h1M404 493.5h1M406 493.5h3M410 493.5h1M412 493.5h1M414 493.5h1M416 493.5h1M418 493.5h6M425 493.5h2M431 493.5h1M436 493.5h1M439 493.5h1M444 493.5h1M446 493.5h1M449 493.5h1M451 493.5h2M457 493.5h1M459 493.5h2M465 493.5h2M472 493.5h1M475 493.5h1M477 493.5h2M480 493.5h2M483 493.5h1M485 493.5h4M491 493.5h2M494 493.5h1M496 493.5h2M499 493.5h1M501 493.5h2M504 493.5h1M506 493.5h1M510 493.5h1M512 493.5h1M515 493.5h1M518 493.5h1M520 493.5h1M522 493.5h1M524 493.5h1M527 493.5h2M530 493.5h1M533 493.5h2M536 493.5h5M542 493.5h2M545 493.5h1M547 493.5h1M553 493.5h1M558 493.5h3M562 493.5h1M564 493.5h1M566 493.5h2M570 493.5h1M573 493.5h1M575 493.5h1M578 493.5h1M581 493.5h1M583 493.5h4M589 493.5h1M591 493.5h1M594 493.5h1M600 493.5h1M604 493.5h1M611 493.5h1M614 493.5h2M618 493.5h2M621 493.5h1M623 493.5h1M625 493.5h1M627 493.5h1M633 493.5h2M638 493.5h2M641 493.5h3M646 493.5h1M648 493.5h3M652 493.5h1M654 493.5h2M657 493.5h1M660 493.5h6M668 493.5h1M671 493.5h1M356 494.5h1M358 494.5h1M360 494.5h1M362 494.5h1M364 494.5h1M366 494.5h3M370 494.5h1M372 494.5h1M374 494.5h1M376 494.5h1M378 494.5h1M380 494.5h3M384 494.5h1M386 494.5h17M404 494.5h5M410 494.5h7M418 494.5h1M420 494.5h1M422 494.5h1M424 494.5h1M426 494.5h1M428 494.5h1M430 494.5h1M432 494.5h1M434 494.5h1M436 494.5h1M438 494.5h1M440 494.5h1M442 494.5h1M444 494.5h1M446 494.5h1M448 494.5h5M454 494.5h1M456 494.5h7M464 494.5h1M466 494.5h1M468 494.5h1M470 494.5h1M472 494.5h1M474 494.5h1M476 494.5h1M478 494.5h1M480 494.5h1M482 494.5h1M484 494.5h1M486 494.5h1M488 494.5h1M490 494.5h1M492 494.5h1M494 494.5h1M496 494.5h1M498 494.5h1M500 494.5h1M502 494.5h1M504 494.5h1M506 494.5h1M508 494.5h9M518 494.5h1M520 494.5h3M524 494.5h1M526 494.5h1M528 494.5h1M530 494.5h3M534 494.5h1M536 494.5h1M538 494.5h1M540 494.5h1M542 494.5h1M544 494.5h1M546 494.5h1M548 494.5h1M550 494.5h1M552 494.5h1M554 494.5h1M556 494.5h1M558 494.5h1M560 494.5h3M564 494.5h3M568 494.5h1M570 494.5h1M572 494.5h1M574 494.5h1M576 494.5h1M578 494.5h1M580 494.5h1M582 494.5h1M584 494.5h1M586 494.5h1M588 494.5h1M590 494.5h1M592 494.5h1M594 494.5h1M596 494.5h3M600 494.5h1M602 494.5h1M604 494.5h1M606 494.5h1M608 494.5h1M610 494.5h1M612 494.5h1M614 494.5h1M618 494.5h1M620 494.5h1M622 494.5h1M624 494.5h1M626 494.5h1M628 494.5h1M630 494.5h1M632 494.5h1M634 494.5h1M638 494.5h1M640 494.5h1M642 494.5h3M646 494.5h7M654 494.5h3M658 494.5h1M660 494.5h1M662 494.5h1M664 494.5h1M666 494.5h1M668 494.5h1M670 494.5h1M358 495.5h4M364 495.5h5M370 495.5h3M374 495.5h3M378 495.5h3M382 495.5h1M384 495.5h1M386 495.5h1M388 495.5h1M390 495.5h1M392 495.5h1M394 495.5h1M396 495.5h1M398 495.5h1M400 495.5h3M404 495.5h1M406 495.5h1M408 495.5h3M412 495.5h1M414 495.5h3M418 495.5h1M420 495.5h1M422 495.5h1M424 495.5h3M428 495.5h1M430 495.5h1M432 495.5h1M436 495.5h3M440 495.5h1M442 495.5h3M446 495.5h5M452 495.5h1M454 495.5h3M458 495.5h3M462 495.5h9M472 495.5h7M480 495.5h5M486 495.5h3M490 495.5h1M492 495.5h1M494 495.5h5M500 495.5h1M502 495.5h7M510 495.5h5M516 495.5h1M518 495.5h1M520 495.5h5M526 495.5h1M528 495.5h7M536 495.5h5M542 495.5h4M547 495.5h4M552 495.5h1M554 495.5h1M556 495.5h1M558 495.5h7M566 495.5h3M570 495.5h1M572 495.5h7M580 495.5h1M582 495.5h3M586 495.5h3M590 495.5h3M594 495.5h1M598 495.5h5M604 495.5h9M614 495.5h5M620 495.5h1M622 495.5h1M624 495.5h1M627 495.5h2M630 495.5h5M636 495.5h1M638 495.5h1M640 495.5h3M644 495.5h5M650 495.5h1M652 495.5h1M654 495.5h1M656 495.5h7M664 495.5h2M667 495.5h1M669 495.5h2M356 496.5h1M358 496.5h1M360 496.5h1M362 496.5h1M364 496.5h1M366 496.5h3M370 496.5h1M372 496.5h3M376 496.5h4M381 496.5h2M384 496.5h1M386 496.5h1M388 496.5h3M392 496.5h5M398 496.5h5M404 496.5h5M410 496.5h9M420 496.5h1M422 496.5h1M424 496.5h1M426 496.5h1M428 496.5h1M430 496.5h1M432 496.5h1M434 496.5h1M436 496.5h1M438 496.5h1M440 496.5h1M442 496.5h1M444 496.5h1M446 496.5h5M452 496.5h5M458 496.5h1M460 496.5h3M464 496.5h1M466 496.5h1M470 496.5h1M472 496.5h1M474 496.5h1M476 496.5h1M478 496.5h1M480 496.5h1M482 496.5h1M484 496.5h1M486 496.5h1M488 496.5h1M490 496.5h1M492 496.5h1M494 496.5h1M496 496.5h1M498 496.5h1M500 496.5h1M502 496.5h1M504 496.5h1M506 496.5h3M510 496.5h1M512 496.5h1M514 496.5h5M520 496.5h1M522 496.5h1M524 496.5h1M526 496.5h1M528 496.5h5M534 496.5h1M536 496.5h5M542 496.5h1M544 496.5h1M546 496.5h1M548 496.5h1M550 496.5h1M552 496.5h1M554 496.5h1M556 496.5h3M560 496.5h1M562 496.5h1M564 496.5h3M568 496.5h3M572 496.5h1M574 496.5h1M576 496.5h1M580 496.5h1M582 496.5h1M586 496.5h1M588 496.5h1M590 496.5h1M592 496.5h1M594 496.5h1M598 496.5h1M600 496.5h1M602 496.5h1M604 496.5h1M606 496.5h1M608 496.5h1M610 496.5h1M612 496.5h1M616 496.5h1M618 496.5h1M620 496.5h1M622 496.5h1M624 496.5h1M626 496.5h1M628 496.5h1M630 496.5h1M632 496.5h1M634 496.5h1M636 496.5h3M640 496.5h1M642 496.5h1M644 496.5h1M646 496.5h3M650 496.5h1M652 496.5h1M654 496.5h1M656 496.5h1M658 496.5h1M660 496.5h1M662 496.5h1M664 496.5h1M666 496.5h1M668 496.5h1M670 496.5h2M355 497.5h7M363 497.5h14M378 497.5h5M384 497.5h1M386 497.5h1M388 497.5h1M390 497.5h1M392 497.5h1M394 497.5h1M398 497.5h1M400 497.5h1M402 497.5h1M404 497.5h5M410 497.5h3M414 497.5h1M416 497.5h3M420 497.5h3M424 497.5h1M426 497.5h1M428 497.5h1M430 497.5h1M432 497.5h1M434 497.5h1M436 497.5h1M438 497.5h3M442 497.5h1M444 497.5h1M446 497.5h3M450 497.5h1M452 497.5h7M460 497.5h3M464 497.5h1M466 497.5h1M468 497.5h3M472 497.5h1M474 497.5h3M478 497.5h1M480 497.5h1M482 497.5h10M494 497.5h5M500 497.5h11M512 497.5h7M520 497.5h5M526 497.5h3M530 497.5h1M532 497.5h7M540 497.5h9M550 497.5h3M554 497.5h4M560 497.5h3M564 497.5h1M566 497.5h5M572 497.5h1M574 497.5h1M576 497.5h1M578 497.5h1M580 497.5h3M584 497.5h1M586 497.5h4M591 497.5h6M598 497.5h9M608 497.5h1M610 497.5h3M614 497.5h7M622 497.5h3M626 497.5h1M628 497.5h17M646 497.5h17M664 497.5h3M668 497.5h4M356 498.5h1M358 498.5h1M360 498.5h1M362 498.5h1M364 498.5h1M366 498.5h1M368 498.5h1M370 498.5h5M376 498.5h43M420 498.5h3M424 498.5h1M426 498.5h1M428 498.5h1M430 498.5h1M432 498.5h1M434 498.5h1M436 498.5h5M442 498.5h1M444 498.5h1M446 498.5h1M448 498.5h1M450 498.5h1M452 498.5h1M454 498.5h1M456 498.5h3M460 498.5h5M466 498.5h1M468 498.5h1M470 498.5h1M472 498.5h1M474 498.5h1M476 498.5h1M478 498.5h1M480 498.5h1M482 498.5h1M484 498.5h1M486 498.5h1M488 498.5h1M490 498.5h1M492 498.5h1M494 498.5h1M496 498.5h1M498 498.5h1M500 498.5h1M502 498.5h3M506 498.5h1M508 498.5h1M510 498.5h3M514 498.5h3M518 498.5h5M524 498.5h5M530 498.5h1M532 498.5h1M534 498.5h1M536 498.5h1M538 498.5h1M540 498.5h3M544 498.5h1M546 498.5h1M548 498.5h1M550 498.5h1M552 498.5h1M554 498.5h1M556 498.5h1M558 498.5h1M560 498.5h1M562 498.5h1M564 498.5h1M566 498.5h1M568 498.5h1M570 498.5h1M572 498.5h1M574 498.5h1M576 498.5h1M578 498.5h1M580 498.5h1M582 498.5h1M584 498.5h1M586 498.5h1M590 498.5h3M594 498.5h1M596 498.5h1M598 498.5h1M600 498.5h1M602 498.5h1M604 498.5h1M606 498.5h1M608 498.5h1M610 498.5h1M612 498.5h1M614 498.5h1M616 498.5h1M618 498.5h1M620 498.5h1M622 498.5h1M624 498.5h1M626 498.5h1M628 498.5h1M630 498.5h3M634 498.5h3M638 498.5h3M642 498.5h3M646 498.5h1M648 498.5h1M650 498.5h1M652 498.5h1M654 498.5h1M656 498.5h1M658 498.5h3M662 498.5h1M664 498.5h1M666 498.5h1M668 498.5h1M670 498.5h1M356 499.5h1M358 499.5h3M362 499.5h3M366 499.5h1M368 499.5h11M380 499.5h5M386 499.5h1M388 499.5h1M390 499.5h1M392 499.5h1M394 499.5h1M396 499.5h1M398 499.5h3M402 499.5h3M408 499.5h3M412 499.5h3M416 499.5h1M418 499.5h83M502 499.5h15M518 499.5h29M548 499.5h124M356 500.5h1M358 500.5h3M362 500.5h1M364 500.5h1M366 500.5h3M370 500.5h3M374 500.5h1M376 500.5h1M378 500.5h3M382 500.5h5M388 500.5h5M394 500.5h1M396 500.5h3M400 500.5h7M408 500.5h7M416 500.5h5M422 500.5h1M424 500.5h1M426 500.5h1M428 500.5h1M430 500.5h1M432 500.5h1M434 500.5h1M436 500.5h1M438 500.5h1M440 500.5h1M442 500.5h1M444 500.5h1M446 500.5h1M448 500.5h1M450 500.5h3M454 500.5h1M456 500.5h1M458 500.5h3M462 500.5h5M468 500.5h1M470 500.5h1M472 500.5h1M474 500.5h1M476 500.5h1M478 500.5h1M480 500.5h1M482 500.5h1M486 500.5h1M488 500.5h1M490 500.5h1M492 500.5h1M494 500.5h1M496 500.5h1M498 500.5h1M500 500.5h1M502 500.5h1M504 500.5h1M506 500.5h1M509 500.5h4M514 500.5h4M519 500.5h6M526 500.5h1M528 500.5h5M534 500.5h3M538 500.5h1M540 500.5h1M542 500.5h1M544 500.5h5M550 500.5h1M552 500.5h1M554 500.5h1M556 500.5h5M562 500.5h7M570 500.5h1M572 500.5h1M574 500.5h1M576 500.5h1M578 500.5h1M580 500.5h1M582 500.5h1M584 500.5h1M586 500.5h1M588 500.5h1M590 500.5h3M594 500.5h3M598 500.5h3M602 500.5h1M604 500.5h1M606 500.5h1M608 500.5h1M610 500.5h1M612 500.5h3M616 500.5h1M618 500.5h1M620 500.5h1M622 500.5h1M624 500.5h1M626 500.5h1M628 500.5h5M634 500.5h1M636 500.5h1M638 500.5h1M640 500.5h1M642 500.5h1M644 500.5h3M648 500.5h7M656 500.5h1M658 500.5h1M660 500.5h1M662 500.5h7M671 500.5h1M355 501.5h22M378 501.5h1M380 501.5h1M382 501.5h1M384 501.5h1M386 501.5h1M388 501.5h1M390 501.5h1M392 501.5h1M394 501.5h1M396 501.5h1M398 501.5h3M402 501.5h3M406 501.5h3M410 501.5h1M414 501.5h1M416 501.5h8M426 501.5h11M438 501.5h1M440 501.5h7M448 501.5h25M474 501.5h3M478 501.5h1M480 501.5h5M486 501.5h1M488 501.5h1M490 501.5h1M492 501.5h7M500 501.5h1M502 501.5h1M504 501.5h11M516 501.5h1M518 501.5h11M530 501.5h13M544 501.5h5M550 501.5h5M556 501.5h3M560 501.5h5M566 501.5h1M568 501.5h3M572 501.5h3M576 501.5h5M582 501.5h1M584 501.5h3M588 501.5h2M591 501.5h8M600 501.5h7M608 501.5h1M610 501.5h3M614 501.5h7M622 501.5h1M624 501.5h1M626 501.5h1M628 501.5h9M638 501.5h5M644 501.5h5M650 501.5h7M658 501.5h1M660 501.5h11M357 502.5h2M360 502.5h6M367 502.5h2M370 502.5h1M372 502.5h4M377 502.5h12M390 502.5h3M394 502.5h9M404 502.5h17M422 502.5h1M424 502.5h1M426 502.5h1M428 502.5h1M430 502.5h1M432 502.5h1M434 502.5h1M436 502.5h1M438 502.5h1M440 502.5h1M444 502.5h1M446 502.5h3M450 502.5h1M452 502.5h1M454 502.5h3M458 502.5h5M464 502.5h1M466 502.5h5M472 502.5h1M474 502.5h1M476 502.5h1M478 502.5h1M480 502.5h1M482 502.5h1M484 502.5h1M486 502.5h1M490 502.5h3M494 502.5h1M496 502.5h1M498 502.5h1M500 502.5h1M502 502.5h2M506 502.5h3M510 502.5h1M512 502.5h3M516 502.5h1M518 502.5h1M520 502.5h1M522 502.5h3M526 502.5h3M530 502.5h1M532 502.5h3M536 502.5h3M540 502.5h1M542 502.5h1M544 502.5h1M546 502.5h1M548 502.5h3M552 502.5h1M554 502.5h3M558 502.5h3M562 502.5h9M572 502.5h1M574 502.5h1M576 502.5h1M578 502.5h1M580 502.5h1M582 502.5h1M584 502.5h1M586 502.5h1M588 502.5h1M590 502.5h1M592 502.5h1M594 502.5h1M596 502.5h1M598 502.5h1M600 502.5h1M602 502.5h1M604 502.5h1M606 502.5h1M608 502.5h1M610 502.5h1M612 502.5h1M614 502.5h3M618 502.5h1M620 502.5h1M622 502.5h1M624 502.5h1M626 502.5h1M628 502.5h1M630 502.5h1M632 502.5h1M634 502.5h1M636 502.5h1M638 502.5h7M646 502.5h1M649 502.5h2M652 502.5h7M660 502.5h3M664 502.5h3M668 502.5h4M356 503.5h3M360 503.5h5M366 503.5h7M374 503.5h3M378 503.5h3M382 503.5h4M387 503.5h2M390 503.5h1M392 503.5h1M395 503.5h2M398 503.5h3M402 503.5h1M404 503.5h1M406 503.5h1M408 503.5h1M410 503.5h1M412 503.5h19M432 503.5h55M488 503.5h68M557 503.5h69M627 503.5h6M634 503.5h31M666 503.5h6M355 504.5h9M365 504.5h18M384 504.5h1M386 504.5h3M390 504.5h7M398 504.5h5M404 504.5h11M416 504.5h3M420 504.5h1M422 504.5h1M424 504.5h3M428 504.5h1M430 504.5h1M432 504.5h3M436 504.5h1M438 504.5h5M445 504.5h4M450 504.5h1M452 504.5h7M460 504.5h5M466 504.5h1M468 504.5h3M472 504.5h1M474 504.5h1M476 504.5h1M478 504.5h1M480 504.5h1M482 504.5h1M484 504.5h1M486 504.5h1M490 504.5h1M493 504.5h4M498 504.5h1M500 504.5h3M504 504.5h1M506 504.5h4M512 504.5h3M516 504.5h9M526 504.5h13M540 504.5h1M542 504.5h1M544 504.5h1M546 504.5h1M548 504.5h1M550 504.5h3M554 504.5h1M556 504.5h1M558 504.5h1M560 504.5h3M564 504.5h1M566 504.5h3M570 504.5h1M572 504.5h1M574 504.5h3M578 504.5h1M580 504.5h1M582 504.5h1M584 504.5h1M586 504.5h1M588 504.5h1M590 504.5h3M594 504.5h1M596 504.5h1M598 504.5h5M604 504.5h3M608 504.5h1M610 504.5h1M612 504.5h1M614 504.5h1M616 504.5h1M618 504.5h1M620 504.5h1M622 504.5h1M624 504.5h1M626 504.5h1M628 504.5h1M630 504.5h1M632 504.5h3M636 504.5h1M638 504.5h5M644 504.5h1M646 504.5h1M648 504.5h3M652 504.5h1M654 504.5h1M656 504.5h1M660 504.5h1M662 504.5h1M664 504.5h8M356 505.5h27M384 505.5h4M389 505.5h38M428 505.5h3M432 505.5h3M436 505.5h5M442 505.5h13M456 505.5h8M465 505.5h10M476 505.5h3M480 505.5h1M482 505.5h3M486 505.5h1M488 505.5h1M490 505.5h7M498 505.5h3M502 505.5h7M510 505.5h4M515 505.5h12M528 505.5h5M534 505.5h3M538 505.5h6M546 505.5h5M552 505.5h19M572 505.5h5M578 505.5h5M584 505.5h1M586 505.5h1M588 505.5h7M596 505.5h3M600 505.5h3M604 505.5h3M608 505.5h3M612 505.5h2M615 505.5h6M622 505.5h1M624 505.5h3M628 505.5h3M632 505.5h3M636 505.5h1M638 505.5h3M642 505.5h1M644 505.5h9M654 505.5h9M664 505.5h1M666 505.5h1M668 505.5h1M670 505.5h2M355 506.5h4M360 506.5h7M368 506.5h1M370 506.5h5M376 506.5h12M389 506.5h28M418 506.5h52M471 506.5h60M532 506.5h1M534 506.5h3M538 506.5h29M568 506.5h7M576 506.5h44M621 506.5h17M639 506.5h33M355 507.5h28M384 507.5h1M386 507.5h9M396 507.5h3M400 507.5h2M404 507.5h11M416 507.5h1M418 507.5h25M444 507.5h59M504 507.5h19M524 507.5h26M551 507.5h7M559 507.5h105M665 507.5h7M355 508.5h27M383 508.5h36M420 508.5h9M430 508.5h1M432 508.5h3M436 508.5h3M440 508.5h1M442 508.5h1M444 508.5h5M450 508.5h1M452 508.5h1M454 508.5h1M456 508.5h5M462 508.5h3M466 508.5h1M468 508.5h3M472 508.5h1M474 508.5h1M476 508.5h1M478 508.5h1M480 508.5h3M484 508.5h1M486 508.5h3M490 508.5h1M492 508.5h1M494 508.5h1M496 508.5h1M498 508.5h1M500 508.5h1M502 508.5h7M510 508.5h1M512 508.5h1M514 508.5h3M518 508.5h3M522 508.5h5M528 508.5h13M542 508.5h1M544 508.5h3M548 508.5h1M550 508.5h1M552 508.5h1M554 508.5h3M558 508.5h1M560 508.5h5M566 508.5h3M570 508.5h5M576 508.5h9M586 508.5h1M588 508.5h3M592 508.5h5M598 508.5h5M604 508.5h1M606 508.5h5M612 508.5h13M626 508.5h1M628 508.5h3M632 508.5h5M638 508.5h3M642 508.5h1M644 508.5h3M648 508.5h7M656 508.5h1M658 508.5h14M356 509.5h3M360 509.5h3M364 509.5h9M374 509.5h3M378 509.5h3M382 509.5h2M385 509.5h1M387 509.5h55M443 509.5h58M502 509.5h84M587 509.5h5M593 509.5h34M628 509.5h4M634 509.5h31M666 509.5h5M355 510.5h1M357 510.5h26M384 510.5h1M386 510.5h3M390 510.5h1M392 510.5h1M394 510.5h3M398 510.5h1M400 510.5h1M402 510.5h3M406 510.5h5M412 510.5h1M414 510.5h3M418 510.5h3M422 510.5h65M488 510.5h136M625 510.5h3M629 510.5h43M355 511.5h2M358 511.5h7M366 511.5h2M369 511.5h19M389 511.5h34M424 511.5h1M426 511.5h5M432 511.5h1M434 511.5h1M436 511.5h5M442 511.5h1M444 511.5h1M446 511.5h5M452 511.5h1M454 511.5h3M458 511.5h1M460 511.5h3M464 511.5h10M476 511.5h1M478 511.5h1M480 511.5h5M486 511.5h3M490 511.5h1M492 511.5h5M498 511.5h5M504 511.5h7M512 511.5h1M514 511.5h15M530 511.5h3M534 511.5h3M538 511.5h8M548 511.5h4M553 511.5h2M556 511.5h1M558 511.5h1M560 511.5h1M562 511.5h1M564 511.5h11M576 511.5h1M578 511.5h1M580 511.5h5M586 511.5h1M588 511.5h2M591 511.5h4M596 511.5h1M598 511.5h1M600 511.5h3M604 511.5h1M606 511.5h5M612 511.5h1M614 511.5h1M616 511.5h7M624 511.5h5M630 511.5h1M632 511.5h1M634 511.5h3M638 511.5h1M640 511.5h1M642 511.5h1M644 511.5h15M660 511.5h7M668 511.5h4M356 512.5h3M360 512.5h3M364 512.5h1M366 512.5h5M372 512.5h1M374 512.5h18M393 512.5h33M427 512.5h7M435 512.5h38M474 512.5h42M517 512.5h28M546 512.5h113M660 512.5h3M664 512.5h8M355 513.5h26M382 513.5h1M384 513.5h5M390 513.5h5M396 513.5h1M398 513.5h9M408 513.5h94M503 513.5h54M558 513.5h54M613 513.5h41M655 513.5h5M661 513.5h11M356 514.5h1M358 514.5h1M360 514.5h1M362 514.5h3M366 514.5h1M368 514.5h5M374 514.5h1M376 514.5h45M422 514.5h1M424 514.5h1M426 514.5h7M434 514.5h1M436 514.5h1M438 514.5h4M443 514.5h4M448 514.5h5M454 514.5h11M466 514.5h3M470 514.5h5M476 514.5h1M478 514.5h1M480 514.5h5M486 514.5h1M488 514.5h1M490 514.5h3M494 514.5h11M506 514.5h1M508 514.5h7M516 514.5h13M530 514.5h11M542 514.5h7M550 514.5h5M556 514.5h1M558 514.5h1M560 514.5h1M562 514.5h1M564 514.5h1M566 514.5h1M568 514.5h1M570 514.5h3M574 514.5h1M576 514.5h1M578 514.5h1M580 514.5h1M582 514.5h1M584 514.5h1M586 514.5h1M588 514.5h3M592 514.5h1M594 514.5h3M598 514.5h3M602 514.5h5M608 514.5h3M613 514.5h4M619 514.5h4M624 514.5h5M630 514.5h5M636 514.5h5M642 514.5h1M644 514.5h1M646 514.5h15M662 514.5h1M664 514.5h7M355 515.5h1M358 515.5h2M362 515.5h2M365 515.5h1M367 515.5h3M371 515.5h1M373 515.5h2M378 515.5h1M380 515.5h5M386 515.5h1M388 515.5h3M393 515.5h2M396 515.5h1M398 515.5h3M402 515.5h3M406 515.5h3M411 515.5h2M414 515.5h148M563 515.5h4M568 515.5h26M595 515.5h62M658 515.5h14M381 516.5h2M385 516.5h4M391 516.5h4M400 516.5h1M402 516.5h1M404 516.5h1M407 516.5h1M409 516.5h3M415 516.5h3M419 516.5h8M428 516.5h1M430 516.5h1M432 516.5h1M434 516.5h1M436 516.5h1M438 516.5h1M440 516.5h5M446 516.5h5M452 516.5h1M454 516.5h1M456 516.5h3M460 516.5h7M468 516.5h1M470 516.5h1M472 516.5h1M474 516.5h1M476 516.5h1M478 516.5h1M480 516.5h1M482 516.5h1M484 516.5h3M488 516.5h1M490 516.5h1M492 516.5h1M494 516.5h1M496 516.5h3M500 516.5h7M508 516.5h3M512 516.5h3M516 516.5h5M522 516.5h3M526 516.5h8M535 516.5h4M540 516.5h1M542 516.5h1M544 516.5h3M548 516.5h1M550 516.5h1M552 516.5h3M556 516.5h1M558 516.5h1M560 516.5h1M562 516.5h1M564 516.5h1M566 516.5h3M570 516.5h1M574 516.5h1M576 516.5h1M578 516.5h1M580 516.5h1M582 516.5h1M584 516.5h3M590 516.5h1M592 516.5h1M594 516.5h3M598 516.5h4M603 516.5h2M606 516.5h3M610 516.5h3M614 516.5h1M616 516.5h5M622 516.5h1M624 516.5h1M626 516.5h1M630 516.5h3M634 516.5h5M640 516.5h3M644 516.5h7M652 516.5h5M658 516.5h1M660 516.5h1M662 516.5h3M666 516.5h1M668 516.5h1M670 516.5h2M419 517.5h2M422 517.5h1M424 517.5h1M426 517.5h1M429 517.5h3M437 517.5h2M440 517.5h1M442 517.5h2M446 517.5h1M468 517.5h1M470 517.5h1M474 517.5h1M477 517.5h2M480 517.5h2M483 517.5h1M485 517.5h1M488 517.5h1M490 517.5h2M497 517.5h3M501 517.5h1M503 517.5h1M512 517.5h2M515 517.5h1M520 517.5h3M525 517.5h1M529 517.5h1M533 517.5h7M543 517.5h5M550 517.5h1M552 517.5h3M559 517.5h3M563 517.5h2M569 517.5h3M573 517.5h1M578 517.5h1M580 517.5h2M585 517.5h1M588 517.5h1M591 517.5h4M596 517.5h1M598 517.5h1M600 517.5h2M605 517.5h1M608 517.5h1M611 517.5h3M616 517.5h1M618 517.5h3M622 517.5h2M625 517.5h3M629 517.5h3M634 517.5h1M638 517.5h1M642 517.5h2M646 517.5h1M648 517.5h1M650 517.5h1M656 517.5h2M659 517.5h4M665 517.5h2M668 517.5h1M670 517.5h2"/>
<path d="M680 493.5h1M682 493.5h1M685 493.5h1M687 493.5h2M699 493.5h1M701 493.5h1M709 493.5h1M723 493.5h5M733 493.5h1M735 493.5h1M737 493.5h3M742 493.5h2M749 493.5h1M755 493.5h1M759 493.5h1M773 493.5h1M776 493.5h1M780 493.5h1M787 493.5h1M789 493.5h2M794 493.5h2M798 493.5h1M801 493.5h2M806 493.5h1M811 493.5h1M814 493.5h1M823 493.5h2M828 493.5h1M832 493.5h1M834 493.5h1M836 493.5h3M841 493.5h2M844 493.5h2M852 493.5h2M856 493.5h1M858 493.5h1M866 493.5h1M872 493.5h1M874 493.5h1M877 493.5h1M881 493.5h6M896 493.5h1M899 493.5h1M913 493.5h2M918 493.5h1M920 493.5h1M924 493.5h2M928 493.5h1M934 493.5h3M938 493.5h1M673 494.5h1M675 494.5h1M677 494.5h1M679 494.5h1M681 494.5h1M683 494.5h1M685 494.5h1M687 494.5h1M689 494.5h1M691 494.5h1M693 494.5h1M695 494.5h1M697 494.5h1M699 494.5h1M701 494.5h1M703 494.5h1M705 494.5h5M711 494.5h1M713 494.5h1M715 494.5h1M717 494.5h1M721 494.5h1M723 494.5h1M725 494.5h3M729 494.5h1M731 494.5h1M733 494.5h5M739 494.5h1M741 494.5h1M743 494.5h1M745 494.5h1M747 494.5h1M749 494.5h1M751 494.5h1M753 494.5h1M755 494.5h1M757 494.5h1M759 494.5h1M761 494.5h1M763 494.5h1M765 494.5h1M767 494.5h1M769 494.5h1M771 494.5h1M773 494.5h1M775 494.5h1M777 494.5h1M779 494.5h1M781 494.5h1M783 494.5h1M785 494.5h1M787 494.5h1M789 494.5h1M791 494.5h1M793 494.5h1M797 494.5h1M799 494.5h1M801 494.5h1M803 494.5h1M805 494.5h1M807 494.5h1M809 494.5h1M811 494.5h1M815 494.5h1M817 494.5h1M819 494.5h1M821 494.5h1M823 494.5h1M825 494.5h1M827 494.5h1M829 494.5h1M831 494.5h1M833 494.5h1M835 494.5h1M837 494.5h1M839 494.5h1M841 494.5h1M843 494.5h1M845 494.5h1M847 494.5h1M849 494.5h1M851 494.5h1M853 494.5h1M855 494.5h1M857 494.5h1M859 494.5h1M861 494.5h1M863 494.5h1M865 494.5h3M869 494.5h1M871 494.5h1M873 494.5h1M875 494.5h1M877 494.5h1M879 494.5h1M881 494.5h1M883 494.5h1M885 494.5h1M887 494.5h1M889 494.5h1M891 494.5h1M893 494.5h1M895 494.5h1M897 494.5h1M899 494.5h1M901 494.5h1M903 494.5h1M905 494.5h1M907 494.5h3M911 494.5h1M913 494.5h1M915 494.5h1M917 494.5h1M919 494.5h1M921 494.5h1M923 494.5h1M925 494.5h1M927 494.5h1M929 494.5h1M931 494.5h1M933 494.5h1M935 494.5h1M937 494.5h1M939 494.5h1M672 495.5h1M676 495.5h4M685 495.5h1M690 495.5h1M692 495.5h2M695 495.5h2M698 495.5h2M701 495.5h1M705 495.5h3M709 495.5h4M714 495.5h8M723 495.5h2M727 495.5h1M731 495.5h1M733 495.5h1M737 495.5h1M739 495.5h5M746 495.5h4M751 495.5h1M753 495.5h4M758 495.5h2M762 495.5h1M764 495.5h1M766 495.5h6M775 495.5h5M781 495.5h1M783 495.5h5M789 495.5h1M792 495.5h1M794 495.5h7M804 495.5h2M808 495.5h5M817 495.5h4M823 495.5h1M827 495.5h1M829 495.5h2M832 495.5h2M837 495.5h2M840 495.5h3M844 495.5h1M846 495.5h5M852 495.5h1M854 495.5h2M857 495.5h2M860 495.5h3M864 495.5h1M866 495.5h1M868 495.5h1M871 495.5h2M874 495.5h2M877 495.5h2M880 495.5h3M884 495.5h1M886 495.5h2M893 495.5h2M899 495.5h1M902 495.5h2M905 495.5h5M911 495.5h1M913 495.5h2M916 495.5h2M920 495.5h2M924 495.5h3M928 495.5h1M931 495.5h1M935 495.5h1M938 495.5h4M673 496.5h1M675 496.5h1M677 496.5h1M679 496.5h1M681 496.5h1M683 496.5h1M685 496.5h1M687 496.5h1M689 496.5h1M691 496.5h1M693 496.5h1M695 496.5h1M697 496.5h1M699 496.5h1M701 496.5h1M703 496.5h1M705 496.5h3M709 496.5h1M711 496.5h1M713 496.5h1M715 496.5h1M717 496.5h1M719 496.5h3M723 496.5h1M725 496.5h1M727 496.5h3M731 496.5h1M733 496.5h1M735 496.5h1M737 496.5h1M739 496.5h1M741 496.5h1M743 496.5h1M745 496.5h1M747 496.5h1M749 496.5h1M751 496.5h1M753 496.5h1M755 496.5h1M757 496.5h1M759 496.5h1M761 496.5h1M763 496.5h1M765 496.5h1M767 496.5h1M769 496.5h1M771 496.5h1M773 496.5h1M775 496.5h1M777 496.5h1M779 496.5h1M781 496.5h1M783 496.5h1M785 496.5h1M787 496.5h1M789 496.5h1M791 496.5h1M793 496.5h1M795 496.5h1M797 496.5h1M799 496.5h1M801 496.5h1M803 496.5h1M805 496.5h1M807 496.5h1M809 496.5h1M811 496.5h1M813 496.5h1M815 496.5h1M817 496.5h1M819 496.5h1M821 496.5h1M823 496.5h1M825 496.5h1M827 496.5h3M831 496.5h1M833 496.5h1M835 496.5h1M837 496.5h1M843 496.5h1M845 496.5h1M847 496.5h1M849 496.5h1M851 496.5h1M853 496.5h1M855 496.5h1M857 496.5h1M859 496.5h1M861 496.5h1M863 496.5h1M865 496.5h3M869 496.5h3M873 496.5h1M875 496.5h1M877 496.5h1M879 496.5h1M881 496.5h1M883 496.5h1M885 496.5h1M887 496.5h1M889 496.5h1M891 496.5h1M893 496.5h3M897 496.5h5M903 496.5h5M909 496.5h1M911 496.5h3M915 496.5h1M917 496.5h1M919 496.5h1M921 496.5h1M923 496.5h1M925 496.5h1M927 496.5h1M929 496.5h1M931 496.5h1M933 496.5h1M935 496.5h1M937 496.5h1M939 496.5h1M941 496.5h1M672 497.5h6M679 497.5h3M683 497.5h2M686 497.5h2M689 497.5h3M693 497.5h5M699 497.5h13M713 497.5h7M721 497.5h3M725 497.5h3M729 497.5h1M731 497.5h4M736 497.5h6M743 497.5h1M745 497.5h3M749 497.5h1M753 497.5h1M755 497.5h7M765 497.5h3M769 497.5h6M778 497.5h4M783 497.5h2M788 497.5h11M801 497.5h8M810 497.5h3M815 497.5h4M820 497.5h1M822 497.5h9M834 497.5h13M848 497.5h3M852 497.5h11M864 497.5h2M867 497.5h3M871 497.5h1M873 497.5h5M879 497.5h8M888 497.5h1M892 497.5h1M894 497.5h11M906 497.5h6M914 497.5h3M918 497.5h7M928 497.5h4M933 497.5h3M937 497.5h2M940 497.5h3M672 498.5h2M675 498.5h1M677 498.5h1M679 498.5h1M681 498.5h1M683 498.5h1M685 498.5h1M687 498.5h1M689 498.5h1M691 498.5h1M693 498.5h1M695 498.5h1M697 498.5h1M699 498.5h5M705 498.5h1M707 498.5h3M711 498.5h3M715 498.5h3M719 498.5h1M721 498.5h1M723 498.5h11M735 498.5h5M741 498.5h1M743 498.5h1M745 498.5h1M747 498.5h1M749 498.5h1M751 498.5h1M753 498.5h1M755 498.5h1M757 498.5h1M759 498.5h1M761 498.5h1M763 498.5h1M767 498.5h1M769 498.5h5M775 498.5h1M777 498.5h3M781 498.5h1M783 498.5h1M787 498.5h1M789 498.5h3M793 498.5h1M795 498.5h1M797 498.5h3M801 498.5h3M805 498.5h1M807 498.5h1M809 498.5h1M811 498.5h1M813 498.5h1M815 498.5h1M817 498.5h1M819 498.5h3M823 498.5h7M831 498.5h3M835 498.5h1M837 498.5h1M839 498.5h3M843 498.5h3M847 498.5h1M849 498.5h1M851 498.5h1M853 498.5h1M855 498.5h3M859 498.5h1M861 498.5h1M863 498.5h1M865 498.5h1M867 498.5h1M869 498.5h1M871 498.5h3M875 498.5h1M877 498.5h1M879 498.5h1M881 498.5h1M883 498.5h1M885 498.5h1M887 498.5h3M891 498.5h5M897 498.5h1M899 498.5h1M901 498.5h5M907 498.5h3M911 498.5h1M913 498.5h1M915 498.5h1M917 498.5h1M919 498.5h1M921 498.5h3M925 498.5h1M927 498.5h1M929 498.5h1M931 498.5h1M933 498.5h1M935 498.5h3M939 498.5h1M941 498.5h1M672 499.5h3M676 499.5h83M761 499.5h28M790 499.5h153M672 500.5h49M722 500.5h54M777 500.5h74M852 500.5h71M924 500.5h19M672 501.5h12M685 501.5h3M689 501.5h7M697 501.5h1M699 501.5h1M701 501.5h9M711 501.5h1M713 501.5h1M715 501.5h3M719 501.5h5M725 501.5h1M727 501.5h1M729 501.5h3M733 501.5h7M741 501.5h3M745 501.5h5M751 501.5h3M755 501.5h3M759 501.5h1M761 501.5h1M763 501.5h3M767 501.5h5M773 501.5h1M775 501.5h7M783 501.5h7M791 501.5h3M795 501.5h1M797 501.5h7M805 501.5h5M811 501.5h3M815 501.5h1M817 501.5h3M821 501.5h1M823 501.5h5M829 501.5h1M831 501.5h15M847 501.5h3M851 501.5h5M857 501.5h5M863 501.5h3M867 501.5h11M879 501.5h7M887 501.5h7M895 501.5h1M897 501.5h15M913 501.5h7M921 501.5h1M923 501.5h1M925 501.5h1M927 501.5h3M931 501.5h11M672 502.5h27M700 502.5h39M740 502.5h25M766 502.5h123M890 502.5h53M672 503.5h24M697 503.5h60M758 503.5h5M764 503.5h32M797 503.5h39M837 503.5h32M870 503.5h73M672 504.5h4M677 504.5h3M681 504.5h1M683 504.5h5M689 504.5h1M691 504.5h3M695 504.5h3M699 504.5h5M705 504.5h1M707 504.5h11M719 504.5h3M723 504.5h3M727 504.5h1M729 504.5h3M733 504.5h1M735 504.5h1M737 504.5h3M741 504.5h3M747 504.5h1M749 504.5h3M753 504.5h5M759 504.5h7M767 504.5h7M775 504.5h1M777 504.5h3M781 504.5h1M783 504.5h1M785 504.5h5M791 504.5h5M797 504.5h1M799 504.5h9M809 504.5h3M813 504.5h1M815 504.5h1M817 504.5h3M821 504.5h1M823 504.5h5M829 504.5h29M859 504.5h1M861 504.5h11M873 504.5h5M879 504.5h4M884 504.5h4M889 504.5h9M899 504.5h7M907 504.5h7M915 504.5h5M921 504.5h11M933 504.5h9M672 505.5h90M763 505.5h51M815 505.5h5M821 505.5h17M839 505.5h39M880 505.5h63M672 506.5h6M679 506.5h17M697 506.5h42M740 506.5h94M835 506.5h108M672 507.5h10M683 507.5h1M685 507.5h7M693 507.5h3M697 507.5h11M709 507.5h9M719 507.5h1M721 507.5h7M729 507.5h3M733 507.5h11M745 507.5h3M749 507.5h25M775 507.5h1M777 507.5h1M779 507.5h13M793 507.5h7M801 507.5h1M803 507.5h1M805 507.5h1M807 507.5h5M813 507.5h11M825 507.5h1M827 507.5h1M829 507.5h19M849 507.5h7M857 507.5h3M861 507.5h1M863 507.5h7M871 507.5h3M875 507.5h13M889 507.5h5M895 507.5h9M905 507.5h1M907 507.5h7M915 507.5h1M917 507.5h19M937 507.5h3M941 507.5h2M672 508.5h135M808 508.5h30M839 508.5h8M848 508.5h95M672 509.5h96M769 509.5h40M810 509.5h38M849 509.5h4M854 509.5h89M673 510.5h1M675 510.5h5M681 510.5h1M683 510.5h3M687 510.5h11M699 510.5h3M703 510.5h3M707 510.5h17M725 510.5h9M735 510.5h3M739 510.5h11M751 510.5h1M753 510.5h5M759 510.5h21M781 510.5h1M783 510.5h1M785 510.5h7M793 510.5h1M795 510.5h7M803 510.5h9M813 510.5h3M817 510.5h9M827 510.5h1M829 510.5h1M831 510.5h1M833 510.5h1M835 510.5h3M839 510.5h3M843 510.5h1M845 510.5h1M847 510.5h1M849 510.5h1M851 510.5h7M859 510.5h3M863 510.5h3M867 510.5h5M873 510.5h9M883 510.5h1M885 510.5h3M889 510.5h1M891 510.5h3M895 510.5h3M899 510.5h1M901 510.5h1M903 510.5h3M907 510.5h3M911 510.5h5M917 510.5h1M919 510.5h5M925 510.5h3M930 510.5h2M933 510.5h1M935 510.5h1M937 510.5h6M672 511.5h8M681 511.5h55M737 511.5h13M751 511.5h60M812 511.5h17M830 511.5h113M672 512.5h59M732 512.5h125M858 512.5h23M882 512.5h61M672 513.5h18M691 513.5h5M697 513.5h1M699 513.5h37M737 513.5h1M739 513.5h1M741 513.5h5M747 513.5h9M757 513.5h5M763 513.5h1M765 513.5h3M769 513.5h9M779 513.5h23M803 513.5h5M809 513.5h11M821 513.5h1M823 513.5h7M831 513.5h9M841 513.5h1M843 513.5h11M855 513.5h3M859 513.5h3M863 513.5h3M867 513.5h2M870 513.5h2M873 513.5h3M877 513.5h1M879 513.5h9M889 513.5h1M891 513.5h1M893 513.5h3M897 513.5h3M901 513.5h3M905 513.5h3M909 513.5h1M911 513.5h1M913 513.5h1M915 513.5h1M917 513.5h3M921 513.5h17M939 513.5h4M672 514.5h12M685 514.5h31M717 514.5h12M730 514.5h110M841 514.5h99M941 514.5h2M672 515.5h5M678 515.5h135M814 515.5h8M823 515.5h118M942 515.5h1M672 516.5h2M675 516.5h5M681 516.5h1M683 516.5h5M689 516.5h1M691 516.5h5M697 516.5h5M703 516.5h3M707 516.5h3M711 516.5h13M725 516.5h1M727 516.5h11M739 516.5h1M741 516.5h1M743 516.5h1M745 516.5h1M749 516.5h7M757 516.5h3M761 516.5h1M763 516.5h9M773 516.5h3M777 516.5h1M779 516.5h3M783 516.5h1M785 516.5h3M789 516.5h5M795 516.5h1M797 516.5h3M801 516.5h5M807 516.5h1M809 516.5h7M817 516.5h9M827 516.5h5M833 516.5h9M843 516.5h1M845 516.5h3M849 516.5h5M855 516.5h3M859 516.5h1M861 516.5h1M863 516.5h1M865 516.5h1M867 516.5h7M875 516.5h1M877 516.5h1M879 516.5h1M881 516.5h1M883 516.5h3M887 516.5h5M893 516.5h1M895 516.5h3M900 516.5h2M903 516.5h1M905 516.5h5M911 516.5h3M915 516.5h9M925 516.5h1M927 516.5h9M937 516.5h1M939 516.5h3M672 517.5h26M699 517.5h81M781 517.5h136M919 517.5h10M930 517.5h13M673 518.5h1M676 518.5h2M679 518.5h1M681 518.5h1M683 518.5h3M687 518.5h4M694 518.5h3M698 518.5h2M703 518.5h1M706 518.5h3M710 518.5h3M714 518.5h4M719 518.5h3M723 518.5h3M727 518.5h4M732 518.5h5M739 518.5h1M741 518.5h3M746 518.5h1M748 518.5h5M754 518.5h1M758 518.5h2M761 518.5h2M764 518.5h2M767 518.5h1M769 518.5h1M771 518.5h3M775 518.5h1M778 518.5h2M784 518.5h1M786 518.5h2M793 518.5h5M799 518.5h5M805 518.5h2M808 518.5h1M810 518.5h1M813 518.5h1M816 518.5h4M822 518.5h2M825 518.5h4M830 518.5h1M832 518.5h1M835 518.5h1M838 518.5h1M840 518.5h3M844 518.5h2M848 518.5h1M850 518.5h1M853 518.5h4M859 518.5h2M864 518.5h2M868 518.5h2M871 518.5h2M876 518.5h5M882 518.5h1M884 518.5h1M886 518.5h4M891 518.5h2M897 518.5h5M903 518.5h10M915 518.5h2M918 518.5h2M922 518.5h7M930 518.5h2M933 518.5h1M936 518.5h1M938 518.5h5"/>
<path d="M943 500.5h2M943 501.5h5M943 502.5h6M943 503.5h6M943 504.5h6M943 505.5h6M943 506.5h6M943 507.5h3"/>
<path d="M1428 497.5h3M1433 497.5h5M1440 497.5h5M1447 497.5h2M1450 497.5h3M1456 497.5h3M1460 497.5h1M1462 497.5h5M1470 497.5h1M1472 497.5h1M1476 497.5h3M1481 497.5h2M1484 497.5h2M1487 497.5h1M1489 497.5h6M1496 497.5h1M1498 497.5h2M1501 497.5h1M1504 497.5h1M1506 497.5h3M1511 497.5h1M1513 497.5h1M1515 497.5h1M1519 497.5h1M1521 497.5h3M1525 497.5h3M1530 497.5h1M1532 497.5h1M1534 497.5h3M1540 497.5h1M1545 497.5h3M1549 497.5h1M1551 497.5h3M1556 497.5h1M1558 497.5h4M1563 497.5h1M1565 497.5h1M1567 497.5h2M1570 497.5h3M1574 497.5h5M1580 497.5h2M1584 497.5h3M1588 497.5h1M1590 497.5h4M1596 497.5h3M1603 497.5h1M1605 497.5h5M1611 497.5h1M1613 497.5h1M1616 497.5h1M1618 497.5h6M1625 497.5h1M1428 498.5h31M1460 498.5h25M1486 498.5h68M1555 498.5h6M1562 498.5h4M1567 498.5h36M1604 498.5h7M1612 498.5h15M1428 499.5h2M1431 499.5h1M1433 499.5h3M1437 499.5h1M1439 499.5h5M1445 499.5h3M1449 499.5h9M1459 499.5h1M1461 499.5h1M1463 499.5h1M1465 499.5h1M1467 499.5h1M1469 499.5h3M1473 499.5h1M1475 499.5h1M1477 499.5h1M1479 499.5h1M1481 499.5h3M1486 499.5h2M1489 499.5h1M1491 499.5h1M1493 499.5h1M1495 499.5h9M1505 499.5h1M1507 499.5h1M1509 499.5h3M1513 499.5h1M1515 499.5h1M1517 499.5h1M1519 499.5h1M1521 499.5h1M1523 499.5h3M1527 499.5h9M1537 499.5h3M1541 499.5h1M1543 499.5h1M1545 499.5h1M1547 499.5h1M1549 499.5h1M1553 499.5h1M1555 499.5h1M1557 499.5h1M1559 499.5h1M1561 499.5h1M1563 499.5h1M1565 499.5h5M1571 499.5h1M1573 499.5h15M1589 499.5h1M1591 499.5h1M1593 499.5h5M1599 499.5h1M1601 499.5h1M1603 499.5h1M1605 499.5h1M1607 499.5h3M1611 499.5h5M1617 499.5h1M1619 499.5h1M1621 499.5h1M1623 499.5h1M1625 499.5h2M1428 500.5h52M1482 500.5h81M1564 500.5h36M1601 500.5h6M1608 500.5h14M1623 500.5h4M1428 501.5h2M1431 501.5h1M1433 501.5h1M1435 501.5h1M1437 501.5h3M1441 501.5h1M1443 501.5h3M1447 501.5h11M1459 501.5h1M1461 501.5h1M1463 501.5h1M1465 501.5h3M1469 501.5h1M1471 501.5h1M1473 501.5h7M1481 501.5h1M1483 501.5h1M1485 501.5h1M1487 501.5h1M1489 501.5h1M1491 501.5h1M1493 501.5h1M1495 501.5h5M1501 501.5h3M1505 501.5h1M1507 501.5h1M1509 501.5h1M1511 501.5h1M1513 501.5h1M1515 501.5h1M1517 501.5h7M1525 501.5h1M1527 501.5h3M1531 501.5h1M1533 501.5h1M1535 501.5h1M1537 501.5h1M1539 501.5h3M1543 501.5h1M1545 501.5h1M1547 501.5h1M1549 501.5h2M1553 501.5h1M1555 501.5h1M1557 501.5h1M1559 501.5h1M1561 501.5h1M1563 501.5h1M1565 501.5h1M1567 501.5h1M1569 501.5h3M1575 501.5h1M1577 501.5h1M1579 501.5h1M1581 501.5h7M1589 501.5h1M1591 501.5h1M1593 501.5h1M1595 501.5h3M1599 501.5h1M1601 501.5h3M1605 501.5h1M1607 501.5h1M1609 501.5h1M1611 501.5h1M1614 501.5h2M1617 501.5h9M1428 502.5h21M1450 502.5h3M1454 502.5h50M1505 502.5h5M1511 502.5h36M1549 502.5h2M1552 502.5h6M1559 502.5h54M1614 502.5h13M1428 503.5h7M1436 503.5h19M1456 503.5h7M1464 503.5h7M1472 503.5h17M1490 503.5h71M1562 503.5h50M1613 503.5h5M1619 503.5h8M1428 504.5h6M1435 504.5h3M1439 504.5h3M1443 504.5h1M1445 504.5h5M1451 504.5h1M1453 504.5h3M1457 504.5h3M1461 504.5h3M1465 504.5h3M1469 504.5h1M1471 504.5h1M1473 504.5h3M1477 504.5h1M1479 504.5h1M1481 504.5h1M1483 504.5h1M1485 504.5h5M1491 504.5h1M1493 504.5h11M1505 504.5h1M1507 504.5h3M1511 504.5h1M1513 504.5h1M1515 504.5h1M1517 504.5h3M1521 504.5h1M1523 504.5h1M1525 504.5h3M1529 504.5h1M1531 504.5h4M1537 504.5h1M1539 504.5h1M1541 504.5h1M1543 504.5h1M1545 504.5h1M1547 504.5h1M1551 504.5h3M1557 504.5h1M1559 504.5h1M1563 504.5h3M1567 504.5h1M1569 504.5h1M1571 504.5h1M1573 504.5h1M1575 504.5h13M1589 504.5h1M1591 504.5h1M1593 504.5h1M1595 504.5h1M1597 504.5h1M1599 504.5h1M1601 504.5h1M1603 504.5h2M1607 504.5h3M1611 504.5h1M1613 504.5h1M1615 504.5h1M1617 504.5h1M1621 504.5h1M1623 504.5h4M1428 505.5h30M1459 505.5h8M1468 505.5h8M1477 505.5h9M1487 505.5h59M1547 505.5h80M1428 506.5h33M1462 506.5h89M1552 506.5h1M1554 506.5h20M1575 506.5h16M1592 506.5h35M1428 507.5h6M1435 507.5h5M1441 507.5h1M1443 507.5h7M1451 507.5h3M1455 507.5h5M1461 507.5h1M1463 507.5h3M1467 507.5h5M1473 507.5h1M1475 507.5h1M1477 507.5h1M1479 507.5h1M1481 507.5h1M1483 507.5h1M1485 507.5h1M1487 507.5h1M1489 507.5h1M1491 507.5h1M1493 507.5h3M1497 507.5h3M1501 507.5h3M1505 507.5h7M1513 507.5h3M1517 507.5h4M1523 507.5h5M1529 507.5h7M1537 507.5h1M1539 507.5h1M1541 507.5h7M1549 507.5h1M1551 507.5h1M1553 507.5h1M1555 507.5h5M1561 507.5h5M1567 507.5h1M1569 507.5h1M1571 507.5h3M1575 507.5h1M1577 507.5h5M1583 507.5h1M1585 507.5h1M1587 507.5h1M1589 507.5h1M1591 507.5h3M1595 507.5h3M1599 507.5h5M1605 507.5h1M1607 507.5h1M1609 507.5h1M1611 507.5h1M1613 507.5h1M1615 507.5h1M1617 507.5h1M1619 507.5h1M1621 507.5h6M1428 508.5h60M1489 508.5h29M1519 508.5h10M1530 508.5h39M1570 508.5h38M1609 508.5h8M1618 508.5h9M1428 509.5h5M1434 509.5h3M1438 509.5h2M1441 509.5h22M1464 509.5h14M1479 509.5h49M1529 509.5h15M1545 509.5h35M1581 509.5h18M1600 509.5h5M1606 509.5h7M1614 509.5h13M1428 510.5h6M1435 510.5h1M1437 510.5h1M1439 510.5h1M1441 510.5h1M1443 510.5h7M1451 510.5h1M1453 510.5h1M1455 510.5h7M1463 510.5h1M1465 510.5h1M1467 510.5h3M1471 510.5h1M1473 510.5h1M1475 510.5h1M1477 510.5h3M1481 510.5h5M1487 510.5h7M1495 510.5h1M1497 510.5h3M1501 510.5h1M1505 510.5h1M1507 510.5h1M1509 510.5h1M1511 510.5h1M1513 510.5h1M1515 510.5h1M1519 510.5h3M1523 510.5h1M1525 510.5h5M1531 510.5h1M1533 510.5h1M1535 510.5h3M1539 510.5h1M1541 510.5h3M1545 510.5h1M1547 510.5h1M1549 510.5h5M1555 510.5h1M1557 510.5h1M1559 510.5h1M1561 510.5h1M1563 510.5h1M1565 510.5h9M1575 510.5h9M1585 510.5h3M1589 510.5h1M1591 510.5h7M1599 510.5h1M1601 510.5h5M1611 510.5h5M1617 510.5h1M1619 510.5h1M1621 510.5h1M1623 510.5h3M1428 511.5h35M1464 511.5h46M1513 511.5h7M1521 511.5h70M1592 511.5h23M1616 511.5h11M1428 512.5h42M1471 512.5h6M1478 512.5h84M1563 512.5h5M1569 512.5h28M1598 512.5h13M1612 512.5h10M1623 512.5h4M1429 513.5h3M1433 513.5h5M1439 513.5h7M1447 513.5h1M1449 513.5h1M1451 513.5h1M1453 513.5h9M1463 513.5h1M1465 513.5h1M1467 513.5h1M1469 513.5h3M1473 513.5h3M1477 513.5h3M1481 513.5h11M1493 513.5h5M1499 513.5h3M1503 513.5h1M1505 513.5h1M1507 513.5h1M1509 513.5h1M1511 513.5h1M1515 513.5h1M1517 513.5h3M1521 513.5h1M1523 513.5h5M1529 513.5h7M1537 513.5h3M1541 513.5h1M1543 513.5h1M1545 513.5h3M1549 513.5h3M1553 513.5h3M1557 513.5h1M1559 513.5h1M1561 513.5h7M1569 513.5h1M1571 513.5h11M1583 513.5h3M1587 513.5h1M1589 513.5h5M1595 513.5h1M1597 513.5h3M1601 513.5h7M1609 513.5h3M1615 513.5h3M1619 513.5h7M1428 514.5h50M1479 514.5h12M1492 514.5h5M1498 514.5h49M1548 514.5h25M1574 514.5h8M1583 514.5h2M1586 514.5h16M1603 514.5h24M1428 515.5h21M1450 515.5h48M1499 515.5h42M1542 515.5h7M1550 515.5h36M1587 515.5h12M1600 515.5h27M1429 516.5h1M1431 516.5h1M1433 516.5h3M1437 516.5h3M1441 516.5h3M1445 516.5h3M1449 516.5h3M1453 516.5h1M1455 516.5h3M1459 516.5h1M1461 516.5h3M1465 516.5h3M1469 516.5h3M1473 516.5h1M1475 516.5h1M1477 516.5h1M1479 516.5h1M1481 516.5h5M1487 516.5h5M1493 516.5h7M1501 516.5h1M1503 516.5h3M1507 516.5h1M1509 516.5h1M1511 516.5h1M1513 516.5h1M1515 516.5h1M1517 516.5h3M1521 516.5h3M1525 516.5h5M1531 516.5h6M1538 516.5h2M1541 516.5h1M1545 516.5h5M1551 516.5h1M1553 516.5h1M1555 516.5h3M1559 516.5h1M1561 516.5h1M1563 516.5h3M1567 516.5h1M1569 516.5h1M1571 516.5h1M1573 516.5h1M1575 516.5h7M1583 516.5h7M1591 516.5h1M1593 516.5h1M1595 516.5h3M1599 516.5h5M1605 516.5h1M1607 516.5h5M1613 516.5h1M1615 516.5h1M1617 516.5h1M1619 516.5h1M1621 516.5h1M1623 516.5h1M1625 516.5h2M1428 517.5h12M1441 517.5h6M1448 517.5h40M1489 517.5h27M1517 517.5h110M1428 518.5h11M1440 518.5h68M1509 518.5h42M1552 518.5h34M1587 518.5h40M1428 519.5h2M1431 519.5h7M1441 519.5h1M1443 519.5h9M1453 519.5h1M1455 519.5h7M1463 519.5h3M1467 519.5h1M1469 519.5h1M1471 519.5h3M1475 519.5h1M1477 519.5h1M1479 519.5h1M1481 519.5h1M1483 519.5h3M1487 519.5h1M1489 519.5h5M1495 519.5h5M1501 519.5h5M1507 519.5h1M1509 519.5h1M1511 519.5h1M1513 519.5h1M1515 519.5h3M1519 519.5h1M1521 519.5h1M1523 519.5h3M1527 519.5h7M1535 519.5h1M1537 519.5h5M1543 519.5h1M1545 519.5h1M1549 519.5h1M1551 519.5h1M1553 519.5h3M1557 519.5h1M1559 519.5h1M1561 519.5h3M1565 519.5h1M1567 519.5h1M1569 519.5h1M1571 519.5h1M1573 519.5h1M1575 519.5h1M1577 519.5h3M1581 519.5h5M1587 519.5h1M1589 519.5h1M1591 519.5h1M1593 519.5h1M1595 519.5h1M1597 519.5h1M1599 519.5h1M1603 519.5h1M1605 519.5h1M1607 519.5h3M1611 519.5h3M1615 519.5h1M1617 519.5h1M1619 519.5h1M1621 519.5h1M1623 519.5h4M1428 520.5h81M1510 520.5h12M1523 520.5h17M1541 520.5h7M1549 520.5h15M1565 520.5h35M1601 520.5h26M1428 521.5h2M1431 521.5h1M1433 521.5h1M1435 521.5h1M1437 521.5h3M1441 521.5h1M1443 521.5h5M1449 521.5h1M1451 521.5h3M1455 521.5h1M1457 521.5h1M1459 521.5h1M1461 521.5h3M1465 521.5h1M1467 521.5h1M1469 521.5h1M1471 521.5h1M1473 521.5h1M1475 521.5h1M1477 521.5h1M1479 521.5h1M1481 521.5h3M1485 521.5h3M1489 521.5h1M1491 521.5h3M1495 521.5h5M1501 521.5h1M1503 521.5h3M1507 521.5h1M1509 521.5h1M1511 521.5h1M1513 521.5h1M1515 521.5h1M1517 521.5h5M1523 521.5h1M1525 521.5h3M1529 521.5h1M1531 521.5h5M1537 521.5h3M1541 521.5h3M1545 521.5h1M1547 521.5h1M1549 521.5h1M1551 521.5h1M1555 521.5h1M1557 521.5h1M1559 521.5h1M1561 521.5h1M1563 521.5h1M1565 521.5h1M1567 521.5h1M1569 521.5h2M1572 521.5h2M1575 521.5h3M1579 521.5h7M1589 521.5h1M1591 521.5h1M1593 521.5h1M1595 521.5h3M1599 521.5h3M1603 521.5h1M1605 521.5h1M1607 521.5h1M1609 521.5h1M1611 521.5h1M1613 521.5h1M1615 521.5h1M1617 521.5h1M1619 521.5h1M1621 521.5h3M1625 521.5h1M1429 522.5h1M1433 522.5h1M1437 522.5h2M1440 522.5h2M1443 522.5h1M1450 522.5h1M1453 522.5h2M1458 522.5h4M1463 522.5h2M1466 522.5h1M1468 522.5h1M1472 522.5h3M1476 522.5h1M1483 522.5h1M1489 522.5h1M1491 522.5h1M1493 522.5h3M1497 522.5h1M1503 522.5h3M1509 522.5h2M1513 522.5h3M1517 522.5h2M1520 522.5h1M1524 522.5h6M1532 522.5h2M1536 522.5h1M1538 522.5h1M1540 522.5h1M1543 522.5h3M1550 522.5h1M1552 522.5h2M1555 522.5h1M1557 522.5h4M1565 522.5h3M1575 522.5h3M1579 522.5h1M1581 522.5h1M1587 522.5h2M1590 522.5h2M1593 522.5h1M1596 522.5h2M1600 522.5h2M1603 522.5h1M1607 522.5h2M1615 522.5h1M1617 522.5h3M1621 522.5h1M1624 522.5h1"/>
</g>
<g filter="url(#thr)">
<g fill="none" stroke="#000" stroke-linecap="round">
<path d="M255.4 43.6L263.6 46.9" stroke-width="3.3"/>
<path d="M276.3 55.7L285.7 60.3" stroke-width="3.3"/>
<path d="M299.3 67.3L304.2 70.2" stroke-width="3.3"/>
<path d="M318.3 78.6L327.2 82.9" stroke-width="3.3"/>
<path d="M339.2 90.8L348.3 96.7" stroke-width="3.3"/>
<path d="M349.0 103.1L342.5 107.9" stroke-width="4.2"/>
<path d="M331.0 114.6L321.5 121.4" stroke-width="4.2"/>
<path d="M309.4 127.4L299.6 133.1" stroke-width="4.2"/>
<path d="M286.9 139.9L277.6 145.1" stroke-width="4.2"/>
<path d="M264.5 150.6L257.5 155.4" stroke-width="4.2"/>
<path d="M962.4 92.9L970.3 88.2" stroke-width="3.7"/>
<path d="M983.4 81.4L992.9 76.5" stroke-width="3.7"/>
<path d="M1004.5 71.2L1013.2 66.7" stroke-width="3.7"/>
<path d="M1026.5 60.3L1035.5 55.9" stroke-width="3.7"/>
<path d="M1047.6 49.3L1050.4 48.5" stroke-width="3.7"/>
<path d="M959.3 110.3L968.5 115.8" stroke-width="3.7"/>
<path d="M979.5 121.7L989.4 126.9" stroke-width="3.7"/>
<path d="M1002.4 133.0L1012.3 138.0" stroke-width="3.7"/>
<path d="M1045.7 155.4L1050.5 158.2" stroke-width="3.7"/>
<path d="M1025.2 144.8L1032.3 149.4" stroke-width="5.5"/>
<path d="M1351.5 60.3L1357.0 63.2" stroke-width="3.7"/>
<path d="M1369.5 71.7L1379.0 76.3" stroke-width="3.7"/>
<path d="M1390.5 83.7L1399.0 87.8" stroke-width="3.7"/>
<path d="M1415.9 96.9L1422.1 101.1" stroke-width="3.7"/>
<path d="M1424.0 108.3L1417.5 111.7" stroke-width="3.7"/>
<path d="M1404.0 120.8L1394.5 126.2" stroke-width="3.7"/>
<path d="M1383.0 131.8L1372.5 137.2" stroke-width="3.7"/>
<path d="M1358.0 143.8L1351.5 147.2" stroke-width="3.7"/>
<path d="M255.2 444.6L260.3 446.9" stroke-width="3.0"/>
<path d="M277.2 457.1L284.3 460.9" stroke-width="3.0"/>
<path d="M297.2 469.8L304.3 474.2" stroke-width="3.2"/>
<path d="M318.2 481.7L325.3 485.8" stroke-width="3.2"/>
<path d="M339.4 494.8L348.1 499.7" stroke-width="3.6"/>
<path d="M349.2 505.9L342.3 510.6" stroke-width="3.6"/>
<path d="M328.1 519.9L320.4 525.1" stroke-width="3.8"/>
<path d="M308.0 531.8L299.5 536.7" stroke-width="3.8"/>
<path d="M286.1 543.0L278.4 548.5" stroke-width="3.8"/>
<path d="M264.1 555.0L257.4 559.5" stroke-width="3.8"/>
<path d="M962.3 496.2L970.2 491.8" stroke-width="3.4"/>
<path d="M985.3 486.2L993.2 481.8" stroke-width="3.4"/>
<path d="M1005.3 476.2L1014.2 470.3" stroke-width="3.4"/>
<path d="M1026.3 464.3L1036.2 458.7" stroke-width="3.4"/>
<path d="M1047.4 453.8L1050.6 452.2" stroke-width="3.4"/>
<path d="M959.9 515.8L968.1 520.2" stroke-width="3.6"/>
<path d="M980.4 526.8L990.1 532.2" stroke-width="3.6"/>
<path d="M1002.4 538.8L1010.1 543.2" stroke-width="3.6"/>
<path d="M1022.4 548.8L1032.1 554.2" stroke-width="3.6"/>
<path d="M1043.9 561.3L1050.6 564.7" stroke-width="3.6"/>
<path d="M1351.3 465.7L1356.2 468.3" stroke-width="3.4"/>
<path d="M1369.3 474.8L1376.2 479.2" stroke-width="3.4"/>
<path d="M1389.3 486.8L1396.2 491.2" stroke-width="3.4"/>
<path d="M1412.4 500.7L1420.1 504.8" stroke-width="3.4"/>
<path d="M1422.2 510.4L1415.3 515.1" stroke-width="3.6"/>
<path d="M1400.1 524.7L1391.4 529.3" stroke-width="3.6"/>
<path d="M1380.1 536.7L1371.4 541.3" stroke-width="3.6"/>
<path d="M1358.1 548.9L1351.4 553.1" stroke-width="3.6"/>
</g>
<path d="M548 134 C540 138 530 142 522 148 C514 156 512 168 516 178 C520 188 528 194 541 196" fill="none" stroke="#000" stroke-width="1.5" stroke-dasharray="1.4 2.6"/>
<path d="M762 133 C775 142 795 142 810 146 C822 148 832 154 838 162 C844 170 842 178 832 186" fill="none" stroke="#000" stroke-width="1.5" stroke-dasharray="1.4 2.6"/>
<path d="M747 119 L762 133" fill="none" stroke="#000" stroke-width="2.6" stroke-dasharray="2.2 1.2"/>
<path d="M742 126 l3 1 M741 131 l3 1" fill="none" stroke="#000" stroke-width="1.2"/>
<path d="M543 134 l5 -2 l1 -3 M549 119 l5 0 l1 2 M544 127 l1 4 M548 125 l0 5 M554 124 l2 3 l3 3" fill="none" stroke="#000" stroke-width="1.3"/>
<rect x="854" y="80" width="2" height="1.5"/><rect x="1381" y="140.5" width="2" height="7.5"/><rect x="1380.3" y="150.3" width="3.4" height="3.2"/>
<rect x="544" y="205" width="0" height="0"/>
<g fill="#000" stroke="#000" stroke-width="0.32" text-rendering="geometricPrecision">
<text transform="translate(356.15,25.90) scale(1.0098,1.0580)" font-size="30.7" font-weight="normal">Ступенчатое</text>
<text transform="translate(389.35,59.50) scale(1.0154,1.0580)" font-size="30.7" font-weight="normal">волокно</text>
<text transform="translate(560.14,21.90) scale(1.0159,1.0580)" font-size="30.7" font-weight="normal">Градиентное</text>
<text transform="translate(594.57,56.20) scale(1.0038,1.0580)" font-size="30.7" font-weight="normal">волокно</text>
<text transform="translate(764.74,25.80) scale(1.0132,1.0580)" font-size="30.7" font-weight="normal">Ступенчатое</text>
<text transform="translate(798.79,59.80) scale(0.9984,1.0580)" font-size="30.7" font-weight="normal">волокно</text>
<path stroke="none" transform="translate(437.586,152.00) scale(0.01429,-0.01433)" d="M806 0L525 0L525 1059Q371 915 162 846L162 1101Q272 1137 401 1237.5Q530 1338 578 1472L806 1472Z"/>
<text transform="translate(459.99,152.00) scale(0.9697,1.0795)" font-size="30" font-weight="normal">м</text>
<path stroke="none" transform="translate(625.372,152.90) scale(0.01537,-0.01427)" d="M763 0L583 0L583 1147Q518 1085 412.5 1023Q307 961 223 930L223 1104Q374 1175 487 1276Q600 1377 647 1472L763 1472Z"/>
<text transform="translate(651.85,154.00) scale(1.0364,1.1427)" font-size="30" font-weight="normal">м</text>
<path stroke="none" transform="translate(826.636,153.70) scale(0.01398,-0.01481)" d="M806 0L525 0L525 1059Q371 915 162 846L162 1101Q272 1137 401 1237.5Q530 1338 578 1472L806 1472Z"/>
<text transform="translate(847.98,154.00) scale(0.9758,1.1427)" font-size="30" font-weight="normal">м</text>
<text transform="translate(557.45,226.00) scale(1.0119,1.0580)" font-size="30.7" font-weight="normal">Сваренные муфты</text>
<path transform="translate(16.00,60.10) scale(1.0000,1.0000)" d="M4.8 -23.3H19V0H15.8V-20.3H8.1V-8Q8.1 -2.8 6.6 -1.3Q5.2 0.2 3.2 0.2Q1.8 0.2 0.1 -0.8L0.6 -3.8Q1.6 -3 2.6 -2.9Q4 -2.8 4.4 -3.8Q4.8 -4.8 4.8 -8Z"/>
<text transform="translate(36.61,60.30) scale(1.0042,1.0580)" font-size="30.7" font-weight="normal">азерный диод</text>
<text transform="translate(16.50,95.50) scale(0.9894,1.0580)" font-size="30.7" font-weight="normal">и оптика</text>
<text transform="translate(16.44,130.20) scale(1.0178,1.0580)" font-size="30.7" font-weight="normal">возбуждения</text>
<text transform="translate(1061.59,72.00) scale(0.9797,1.0580)" font-size="30.7" font-weight="normal">Оптика</text>
<text transform="translate(1060.86,107.20) scale(1.0116,1.0580)" font-size="30.7" font-weight="normal">возбуждения или</text>
<text transform="translate(1061.71,141.90) scale(1.0015,1.0580)" font-size="30.7" font-weight="normal">стыковое</text>
<text transform="translate(1061.71,177.60) scale(0.9988,1.0580)" font-size="30.7" font-weight="normal">соединение,</text>
<text transform="translate(1060.87,212.90) scale(1.0045,1.0580)" font-size="30.7" font-weight="normal">выровненное по</text>
<text transform="translate(1061.70,248.70) scale(1.0055,1.0580)" font-size="30.7" font-weight="normal">одной линии</text>
<text transform="translate(1424.15,165.20) scale(1.0116,1.0580)" font-size="30.7" font-weight="normal">Испытуемое</text>
<text transform="translate(1424.56,199.90) scale(1.0091,1.0580)" font-size="30.7" font-weight="normal">волокно</text>
<text transform="translate(716.87,321.59) scale(0.8365,1.0341)" font-size="30" font-weight="bold">a</text>
<text transform="translate(732.98,320.03) scale(0.8245,0.9253)" font-size="30" font-weight="bold">)</text>
<path transform="translate(16.00,466.90) scale(1.0000,1.0000)" d="M4.8 -23.3H19V0H15.8V-20.3H8.1V-8Q8.1 -2.8 6.6 -1.3Q5.2 0.2 3.2 0.2Q1.8 0.2 0.1 -0.8L0.6 -3.8Q1.6 -3 2.6 -2.9Q4 -2.8 4.4 -3.8Q4.8 -4.8 4.8 -8Z"/>
<text transform="translate(36.60,467.00) scale(1.0082,1.0580)" font-size="30.7" font-weight="normal">азерный диод</text>
<text transform="translate(16.61,502.00) scale(0.9886,1.0580)" font-size="30.7" font-weight="normal">и оптика</text>
<text transform="translate(16.55,537.00) scale(1.0151,1.0580)" font-size="30.7" font-weight="normal">возбуждения</text>
<text transform="translate(450.26,477.00) scale(1.0081,1.0580)" font-size="30.7" font-weight="normal">Возможные</text>
<text transform="translate(444.46,553.40) scale(1.0082,1.0580)" font-size="30.7" font-weight="normal">микроизгибы</text>
<text transform="translate(716.45,424.10) scale(1.0082,1.0580)" font-size="30.7" font-weight="normal">Ступенчатое</text>
<text transform="translate(749.13,460.30) scale(1.0226,1.0580)" font-size="30.7" font-weight="normal">волокно</text>
<text transform="translate(706.05,561.90) scale(0.8351,1.0029)" font-size="30" font-weight="bold">2</text>
<text transform="translate(730.87,561.80) scale(0.9818,1.0606)" font-size="30" font-weight="normal">м</text>
<g clip-path="url(#clipb)">
<text transform="translate(1061.59,475.60) scale(0.9797,1.0580)" font-size="30.7" font-weight="normal">Оптика</text>
<text transform="translate(1060.86,510.70) scale(1.0116,1.0580)" font-size="30.7" font-weight="normal">возбуждения или</text>
<text transform="translate(1061.71,545.80) scale(1.0015,1.0580)" font-size="30.7" font-weight="normal">стыковое</text>
<text transform="translate(1061.71,581.30) scale(0.9988,1.0580)" font-size="30.7" font-weight="normal">соединение,</text>
<text transform="translate(1060.87,616.20) scale(1.0045,1.0580)" font-size="30.7" font-weight="normal">выровненное по</text>
<text transform="translate(1061.70,651.40) scale(1.0055,1.0580)" font-size="30.7" font-weight="normal">одной линии</text>
</g>
<text transform="translate(1425.08,583.80) scale(1.0007,1.0580)" font-size="30.7" font-weight="normal">Испытуемое</text>
<text transform="translate(1425.50,618.20) scale(0.9903,1.0580)" font-size="30.7" font-weight="normal">волокно</text>
<text transform="translate(713.84,721.69) scale(1.0033,1.0431)" font-size="30" font-weight="bold">b</text>
<text transform="translate(731.48,721.57) scale(0.7892,0.9503)" font-size="30" font-weight="bold">)</text>
</g>
</g>
</svg>
</body></html>
